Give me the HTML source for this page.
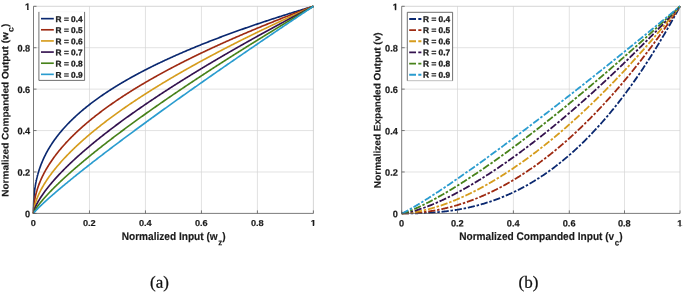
<!DOCTYPE html>
<html><head><meta charset="utf-8"><title>Figure</title>
<style>
html,body{margin:0;padding:0;background:#fff;}
svg{display:block;will-change:transform;}
text{font-family:"Liberation Sans", Arial, Helvetica, sans-serif;fill:#1a1a1a;text-rendering:geometricPrecision;}
.g{stroke:#d6d6d6;stroke-width:0.7;fill:none;}
.bx{stroke:#cccccc;stroke-width:0.8;fill:none;}
.ax{stroke:#5a5a5a;stroke-width:0.8;fill:none;}
.tk{stroke:#5a5a5a;stroke-width:0.8;}
.ca{fill:none;stroke-width:1.65;stroke-linejoin:round;}
.cb{fill:none;stroke-width:1.8;stroke-dasharray:7.2 1.8 2.5 1.8;}
.cl{fill:none;stroke-width:1.85;stroke-dasharray:6.8 2.3 3.1 20;}
.tl{font-size:9.2px;font-weight:bold;stroke:#1a1a1a;stroke-width:0.2;}
.al{font-weight:bold;stroke:#1a1a1a;stroke-width:0.15;}
.xl{font-size:10.12px;}
.yl{font-size:10.05px;}
.sub{font-size:7.9px;}
.lt{font-size:8.3px;font-weight:bold;stroke:#1a1a1a;stroke-width:0.3;}
.lgb{fill:none;stroke:#4c4c4c;stroke-width:0.8;}
.cap{font-family:"Liberation Serif", "Times New Roman", serif;font-size:17px;fill:#111;stroke:#111;stroke-width:0.25;}
</style></head><body>
<svg width="685" height="292" viewBox="0 0 685 292">
<defs><clipPath id="c1m"><rect x="-3.2" y="-9" width="6.4" height="7.9"/><rect x="-0.52" y="-1.3" width="1.46" height="2"/></clipPath><clipPath id="c1e"><rect x="-5.8" y="-9" width="6.4" height="7.9"/><rect x="-3.08" y="-1.3" width="1.46" height="2"/></clipPath></defs>
<rect width="685" height="292" fill="#fff"/>
<line x1="89.48" y1="6.3" x2="89.48" y2="213.4" class="g"/>
<line x1="33.5" y1="171.98" x2="313.4" y2="171.98" class="g"/>
<line x1="145.46" y1="6.3" x2="145.46" y2="213.4" class="g"/>
<line x1="33.5" y1="130.56" x2="313.4" y2="130.56" class="g"/>
<line x1="201.44" y1="6.3" x2="201.44" y2="213.4" class="g"/>
<line x1="33.5" y1="89.14" x2="313.4" y2="89.14" class="g"/>
<line x1="257.42" y1="6.3" x2="257.42" y2="213.4" class="g"/>
<line x1="33.5" y1="47.72" x2="313.4" y2="47.72" class="g"/>
<path d="M33.5 6.3H313.4V213.4" class="bx"/>
<path d="M33.50 213.40 L33.53 208.19 L33.56 206.52 L33.58 205.31 L33.61 204.32 L33.64 203.48 L33.67 202.73 L33.70 202.05 L33.73 201.42 L33.75 200.85 L33.78 200.31 L33.81 199.80 L33.84 199.32 L33.87 198.86 L33.89 198.42 L33.92 198.00 L33.95 197.60 L33.98 197.21 L34.01 196.84 L34.03 196.47 L34.06 196.12 L34.09 195.78 L34.12 195.45 L34.15 195.13 L34.18 194.82 L34.20 194.51 L34.23 194.21 L34.26 193.92 L34.29 193.63 L34.32 193.35 L34.34 193.08 L34.37 192.81 L34.40 192.55 L34.43 192.29 L34.46 192.04 L34.48 191.79 L34.51 191.54 L34.54 191.30 L34.57 191.07 L34.60 190.83 L34.63 190.60 L34.65 190.38 L34.68 190.15 L34.71 189.93 L34.74 189.72 L34.77 189.50 L34.79 189.29 L34.82 189.08 L34.85 188.88 L34.88 188.68 L34.91 188.47 L34.93 188.28 L34.96 188.08 L34.99 187.89 L35.02 187.70 L35.05 187.51 L35.08 187.32 L35.10 187.13 L35.13 186.95 L35.16 186.77 L35.19 186.59 L35.22 186.41 L35.24 186.24 L35.27 186.06 L35.30 185.89 L35.33 185.72 L35.36 185.55 L35.38 185.38 L35.41 185.21 L35.44 185.05 L35.47 184.88 L35.50 184.72 L35.53 184.56 L35.55 184.40 L35.58 184.24 L35.61 184.09 L35.64 183.93 L35.67 183.78 L35.69 183.62 L35.72 183.47 L35.75 183.32 L35.78 183.17 L35.81 183.02 L35.83 182.87 L35.86 182.73 L35.89 182.58 L35.92 182.44 L35.95 182.29 L35.98 182.15 L36.00 182.01 L36.03 181.87 L36.06 181.73 L36.09 181.59 L36.12 181.45 L36.14 181.32 L36.17 181.18 L36.20 181.04 L36.23 180.91 L36.26 180.78 L36.28 180.64 L36.31 180.51 L36.34 180.38 L36.37 180.25 L36.40 180.12 L36.43 179.99 L36.45 179.86 L36.48 179.74 L36.51 179.61 L36.54 179.48 L36.57 179.36 L36.59 179.23 L36.62 179.11 L36.65 178.99 L36.68 178.86 L36.71 178.74 L36.74 178.62 L36.76 178.50 L36.79 178.38 L36.82 178.26 L36.85 178.14 L36.88 178.02 L36.90 177.91 L36.93 177.79 L36.96 177.67 L36.99 177.56 L37.02 177.44 L37.04 177.33 L37.07 177.21 L37.10 177.10 L37.13 176.98 L37.16 176.87 L37.19 176.76 L37.21 176.65 L37.24 176.54 L37.27 176.43 L37.30 176.32 L37.33 176.21 L37.35 176.10 L37.38 175.99 L37.41 175.88 L37.44 175.77 L37.47 175.67 L37.49 175.56 L37.52 175.45 L37.55 175.35 L37.58 175.24 L37.61 175.14 L37.64 175.03 L37.66 174.93 L37.69 174.82 L37.72 174.72 L37.75 174.62 L37.78 174.51 L37.80 174.41 L37.83 174.31 L37.86 174.21 L37.89 174.11 L37.92 174.01 L37.94 173.91 L37.97 173.81 L38.00 173.71 L38.03 173.61 L38.06 173.51 L38.09 173.41 L38.11 173.31 L38.14 173.22 L38.17 173.12 L38.20 173.02 L38.23 172.93 L38.25 172.83 L38.28 172.73 L38.31 172.64 L38.34 172.54 L38.37 172.45 L38.39 172.35 L38.42 172.26 L38.45 172.17 L38.48 172.07 L38.51 171.98 L38.54 171.89 L38.56 171.79 L38.59 171.70 L38.62 171.61 L38.65 171.52 L38.68 171.43 L38.70 171.34 L38.73 171.24 L38.76 171.15 L38.79 171.06 L38.82 170.97 L38.84 170.88 L38.87 170.79 L38.90 170.71 L38.93 170.62 L38.96 170.53 L38.99 170.44 L39.01 170.35 L39.04 170.26 L39.07 170.18 L39.10 170.09 L39.79 168.04 L40.47 166.11 L41.16 164.30 L41.85 162.58 L42.54 160.95 L43.22 159.39 L43.91 157.89 L44.60 156.45 L45.29 155.07 L45.97 153.73 L46.66 152.43 L47.35 151.18 L48.04 149.96 L48.72 148.78 L49.41 147.63 L50.10 146.50 L50.79 145.41 L51.47 144.34 L52.16 143.30 L52.85 142.27 L53.53 141.27 L54.22 140.29 L54.91 139.33 L55.60 138.39 L56.28 137.47 L56.97 136.56 L57.66 135.67 L58.35 134.79 L59.03 133.92 L59.72 133.08 L60.41 132.24 L61.10 131.42 L61.78 130.61 L62.47 129.81 L63.16 129.02 L63.85 128.24 L64.53 127.48 L65.22 126.72 L65.91 125.97 L66.60 125.24 L67.28 124.51 L67.97 123.79 L68.66 123.08 L69.35 122.38 L70.03 121.68 L70.72 120.99 L71.41 120.32 L72.10 119.64 L72.78 118.98 L73.47 118.32 L74.16 117.67 L74.85 117.03 L75.53 116.39 L76.22 115.76 L76.91 115.13 L77.60 114.51 L78.28 113.90 L78.97 113.29 L79.66 112.69 L80.35 112.09 L81.03 111.50 L81.72 110.91 L82.41 110.33 L83.10 109.75 L83.78 109.18 L84.47 108.61 L85.16 108.05 L85.85 107.49 L86.53 106.94 L87.22 106.39 L87.91 105.84 L88.60 105.30 L89.28 104.76 L89.97 104.23 L90.66 103.70 L91.35 103.17 L92.03 102.65 L92.72 102.13 L93.41 101.62 L94.10 101.11 L94.78 100.60 L95.47 100.09 L96.16 99.59 L96.85 99.09 L97.53 98.60 L98.22 98.11 L98.91 97.62 L99.60 97.14 L100.28 96.65 L100.97 96.17 L101.66 95.70 L102.35 95.22 L103.03 94.75 L103.72 94.29 L104.41 93.82 L105.10 93.36 L105.78 92.90 L106.47 92.44 L107.16 91.99 L107.85 91.53 L108.53 91.09 L109.22 90.64 L109.91 90.19 L110.60 89.75 L111.28 89.31 L111.97 88.87 L112.66 88.44 L113.35 88.01 L114.03 87.57 L114.72 87.15 L115.41 86.72 L116.10 86.30 L116.78 85.87 L117.47 85.45 L118.16 85.04 L118.84 84.62 L119.53 84.21 L120.22 83.79 L120.91 83.38 L121.59 82.98 L122.28 82.57 L122.97 82.17 L123.66 81.76 L124.34 81.36 L125.03 80.96 L125.72 80.57 L126.41 80.17 L127.09 79.78 L127.78 79.39 L128.47 79.00 L129.16 78.61 L129.84 78.22 L130.53 77.84 L131.22 77.45 L131.91 77.07 L132.59 76.69 L133.28 76.31 L133.97 75.93 L134.66 75.56 L135.34 75.19 L136.03 74.81 L136.72 74.44 L137.41 74.07 L138.09 73.70 L138.78 73.34 L139.47 72.97 L140.16 72.61 L140.84 72.25 L141.53 71.89 L142.22 71.53 L142.91 71.17 L143.59 70.81 L144.28 70.46 L144.97 70.10 L145.66 69.75 L146.34 69.40 L147.03 69.05 L147.72 68.70 L148.41 68.35 L149.09 68.00 L149.78 67.66 L150.47 67.31 L151.16 66.97 L151.84 66.63 L152.53 66.29 L153.22 65.95 L153.91 65.61 L154.59 65.28 L155.28 64.94 L155.97 64.60 L156.66 64.27 L157.34 63.94 L158.03 63.61 L158.72 63.28 L159.41 62.95 L160.09 62.62 L160.78 62.29 L161.47 61.97 L162.16 61.64 L162.84 61.32 L163.53 61.00 L164.22 60.67 L164.91 60.35 L165.59 60.03 L166.28 59.71 L166.97 59.40 L167.66 59.08 L168.34 58.76 L169.03 58.45 L169.72 58.14 L170.41 57.82 L171.09 57.51 L171.78 57.20 L172.47 56.89 L173.16 56.58 L173.84 56.27 L174.53 55.96 L175.22 55.66 L175.91 55.35 L176.59 55.05 L177.28 54.74 L177.97 54.44 L178.66 54.14 L179.34 53.84 L180.03 53.54 L180.72 53.24 L181.41 52.94 L182.09 52.64 L182.78 52.34 L183.47 52.05 L184.15 51.75 L184.84 51.46 L185.53 51.16 L186.22 50.87 L186.90 50.58 L187.59 50.29 L188.28 50.00 L188.97 49.71 L189.65 49.42 L190.34 49.13 L191.03 48.84 L191.72 48.55 L192.40 48.27 L193.09 47.98 L193.78 47.70 L194.47 47.41 L195.15 47.13 L195.84 46.85 L196.53 46.57 L197.22 46.28 L197.90 46.00 L198.59 45.72 L199.28 45.45 L199.97 45.17 L200.65 44.89 L201.34 44.61 L202.03 44.34 L202.72 44.06 L203.40 43.79 L204.09 43.51 L204.78 43.24 L205.47 42.97 L206.15 42.69 L206.84 42.42 L207.53 42.15 L208.22 41.88 L208.90 41.61 L209.59 41.34 L210.28 41.07 L210.97 40.81 L211.65 40.54 L212.34 40.27 L213.03 40.01 L213.72 39.74 L214.40 39.48 L215.09 39.21 L215.78 38.95 L216.47 38.69 L217.15 38.42 L217.84 38.16 L218.53 37.90 L219.22 37.64 L219.90 37.38 L220.59 37.12 L221.28 36.86 L221.97 36.60 L222.65 36.35 L223.34 36.09 L224.03 35.83 L224.72 35.58 L225.40 35.32 L226.09 35.07 L226.78 34.81 L227.47 34.56 L228.15 34.30 L228.84 34.05 L229.53 33.80 L230.22 33.55 L230.90 33.30 L231.59 33.05 L232.28 32.80 L232.97 32.55 L233.65 32.30 L234.34 32.05 L235.03 31.80 L235.72 31.55 L236.40 31.31 L237.09 31.06 L237.78 30.81 L238.47 30.57 L239.15 30.32 L239.84 30.08 L240.53 29.83 L241.22 29.59 L241.90 29.35 L242.59 29.11 L243.28 28.86 L243.97 28.62 L244.65 28.38 L245.34 28.14 L246.03 27.90 L246.72 27.66 L247.40 27.42 L248.09 27.18 L248.78 26.94 L249.46 26.71 L250.15 26.47 L250.84 26.23 L251.53 25.99 L252.21 25.76 L252.90 25.52 L253.59 25.29 L254.28 25.05 L254.96 24.82 L255.65 24.58 L256.34 24.35 L257.03 24.12 L257.71 23.88 L258.40 23.65 L259.09 23.42 L259.78 23.19 L260.46 22.96 L261.15 22.73 L261.84 22.50 L262.53 22.27 L263.21 22.04 L263.90 21.81 L264.59 21.58 L265.28 21.35 L265.96 21.13 L266.65 20.90 L267.34 20.67 L268.03 20.45 L268.71 20.22 L269.40 19.99 L270.09 19.77 L270.78 19.54 L271.46 19.32 L272.15 19.09 L272.84 18.87 L273.53 18.65 L274.21 18.42 L274.90 18.20 L275.59 17.98 L276.28 17.76 L276.96 17.54 L277.65 17.32 L278.34 17.10 L279.03 16.87 L279.71 16.65 L280.40 16.44 L281.09 16.22 L281.78 16.00 L282.46 15.78 L283.15 15.56 L283.84 15.34 L284.53 15.13 L285.21 14.91 L285.90 14.69 L286.59 14.48 L287.28 14.26 L287.96 14.04 L288.65 13.83 L289.34 13.61 L290.03 13.40 L290.71 13.19 L291.40 12.97 L292.09 12.76 L292.78 12.54 L293.46 12.33 L294.15 12.12 L294.84 11.91 L295.53 11.70 L296.21 11.48 L296.90 11.27 L297.59 11.06 L298.28 10.85 L298.96 10.64 L299.65 10.43 L300.34 10.22 L301.03 10.01 L301.71 9.80 L302.40 9.59 L303.09 9.39 L303.78 9.18 L304.46 8.97 L305.15 8.76 L305.84 8.56 L306.53 8.35 L307.21 8.14 L307.90 7.94 L308.59 7.73 L309.28 7.53 L309.96 7.32 L310.65 7.12 L311.34 6.91 L312.03 6.71 L312.71 6.50 L313.40 6.30" stroke="#0a2870" class="ca"/>
<path d="M33.50 213.40 L33.53 211.32 L33.56 210.46 L33.58 209.80 L33.61 209.25 L33.64 208.76 L33.67 208.31 L33.70 207.91 L33.73 207.53 L33.75 207.17 L33.78 206.83 L33.81 206.51 L33.84 206.21 L33.87 205.91 L33.89 205.63 L33.92 205.36 L33.95 205.10 L33.98 204.84 L34.01 204.59 L34.03 204.35 L34.06 204.11 L34.09 203.89 L34.12 203.66 L34.15 203.44 L34.18 203.23 L34.20 203.02 L34.23 202.81 L34.26 202.61 L34.29 202.41 L34.32 202.22 L34.34 202.03 L34.37 201.84 L34.40 201.66 L34.43 201.47 L34.46 201.29 L34.48 201.12 L34.51 200.94 L34.54 200.77 L34.57 200.60 L34.60 200.43 L34.63 200.27 L34.65 200.11 L34.68 199.94 L34.71 199.79 L34.74 199.63 L34.77 199.47 L34.79 199.32 L34.82 199.17 L34.85 199.02 L34.88 198.87 L34.91 198.72 L34.93 198.57 L34.96 198.43 L34.99 198.29 L35.02 198.14 L35.05 198.00 L35.08 197.86 L35.10 197.73 L35.13 197.59 L35.16 197.45 L35.19 197.32 L35.22 197.18 L35.24 197.05 L35.27 196.92 L35.30 196.79 L35.33 196.66 L35.36 196.53 L35.38 196.41 L35.41 196.28 L35.44 196.15 L35.47 196.03 L35.50 195.91 L35.53 195.78 L35.55 195.66 L35.58 195.54 L35.61 195.42 L35.64 195.30 L35.67 195.18 L35.69 195.06 L35.72 194.95 L35.75 194.83 L35.78 194.71 L35.81 194.60 L35.83 194.48 L35.86 194.37 L35.89 194.26 L35.92 194.15 L35.95 194.03 L35.98 193.92 L36.00 193.81 L36.03 193.70 L36.06 193.59 L36.09 193.49 L36.12 193.38 L36.14 193.27 L36.17 193.16 L36.20 193.06 L36.23 192.95 L36.26 192.85 L36.28 192.74 L36.31 192.64 L36.34 192.53 L36.37 192.43 L36.40 192.33 L36.43 192.23 L36.45 192.13 L36.48 192.02 L36.51 191.92 L36.54 191.82 L36.57 191.72 L36.59 191.62 L36.62 191.53 L36.65 191.43 L36.68 191.33 L36.71 191.23 L36.74 191.14 L36.76 191.04 L36.79 190.94 L36.82 190.85 L36.85 190.75 L36.88 190.66 L36.90 190.56 L36.93 190.47 L36.96 190.37 L36.99 190.28 L37.02 190.19 L37.04 190.09 L37.07 190.00 L37.10 189.91 L37.13 189.82 L37.16 189.73 L37.19 189.64 L37.21 189.55 L37.24 189.46 L37.27 189.37 L37.30 189.28 L37.33 189.19 L37.35 189.10 L37.38 189.01 L37.41 188.92 L37.44 188.83 L37.47 188.75 L37.49 188.66 L37.52 188.57 L37.55 188.49 L37.58 188.40 L37.61 188.31 L37.64 188.23 L37.66 188.14 L37.69 188.06 L37.72 187.97 L37.75 187.89 L37.78 187.80 L37.80 187.72 L37.83 187.64 L37.86 187.55 L37.89 187.47 L37.92 187.39 L37.94 187.30 L37.97 187.22 L38.00 187.14 L38.03 187.06 L38.06 186.97 L38.09 186.89 L38.11 186.81 L38.14 186.73 L38.17 186.65 L38.20 186.57 L38.23 186.49 L38.25 186.41 L38.28 186.33 L38.31 186.25 L38.34 186.17 L38.37 186.09 L38.39 186.01 L38.42 185.93 L38.45 185.86 L38.48 185.78 L38.51 185.70 L38.54 185.62 L38.56 185.54 L38.59 185.47 L38.62 185.39 L38.65 185.31 L38.68 185.24 L38.70 185.16 L38.73 185.08 L38.76 185.01 L38.79 184.93 L38.82 184.86 L38.84 184.78 L38.87 184.71 L38.90 184.63 L38.93 184.56 L38.96 184.48 L38.99 184.41 L39.01 184.33 L39.04 184.26 L39.07 184.19 L39.10 184.11 L39.79 182.37 L40.47 180.71 L41.16 179.14 L41.85 177.63 L42.54 176.19 L43.22 174.80 L43.91 173.46 L44.60 172.16 L45.29 170.90 L45.97 169.68 L46.66 168.49 L47.35 167.34 L48.04 166.21 L48.72 165.10 L49.41 164.02 L50.10 162.97 L50.79 161.93 L51.47 160.92 L52.16 159.93 L52.85 158.95 L53.53 157.99 L54.22 157.05 L54.91 156.12 L55.60 155.21 L56.28 154.31 L56.97 153.43 L57.66 152.55 L58.35 151.70 L59.03 150.85 L59.72 150.01 L60.41 149.19 L61.10 148.37 L61.78 147.57 L62.47 146.77 L63.16 145.98 L63.85 145.21 L64.53 144.44 L65.22 143.68 L65.91 142.93 L66.60 142.18 L67.28 141.45 L67.97 140.72 L68.66 140.00 L69.35 139.29 L70.03 138.58 L70.72 137.88 L71.41 137.18 L72.10 136.50 L72.78 135.81 L73.47 135.14 L74.16 134.47 L74.85 133.80 L75.53 133.14 L76.22 132.49 L76.91 131.84 L77.60 131.20 L78.28 130.56 L78.97 129.93 L79.66 129.30 L80.35 128.67 L81.03 128.05 L81.72 127.44 L82.41 126.83 L83.10 126.22 L83.78 125.62 L84.47 125.02 L85.16 124.43 L85.85 123.84 L86.53 123.25 L87.22 122.67 L87.91 122.09 L88.60 121.52 L89.28 120.94 L89.97 120.38 L90.66 119.81 L91.35 119.25 L92.03 118.69 L92.72 118.14 L93.41 117.59 L94.10 117.04 L94.78 116.49 L95.47 115.95 L96.16 115.41 L96.85 114.88 L97.53 114.34 L98.22 113.81 L98.91 113.29 L99.60 112.76 L100.28 112.24 L100.97 111.72 L101.66 111.20 L102.35 110.69 L103.03 110.18 L103.72 109.67 L104.41 109.16 L105.10 108.66 L105.78 108.16 L106.47 107.66 L107.16 107.16 L107.85 106.67 L108.53 106.17 L109.22 105.68 L109.91 105.19 L110.60 104.71 L111.28 104.23 L111.97 103.74 L112.66 103.27 L113.35 102.79 L114.03 102.31 L114.72 101.84 L115.41 101.37 L116.10 100.90 L116.78 100.43 L117.47 99.97 L118.16 99.50 L118.84 99.04 L119.53 98.58 L120.22 98.12 L120.91 97.67 L121.59 97.21 L122.28 96.76 L122.97 96.31 L123.66 95.86 L124.34 95.41 L125.03 94.97 L125.72 94.53 L126.41 94.08 L127.09 93.64 L127.78 93.20 L128.47 92.77 L129.16 92.33 L129.84 91.90 L130.53 91.46 L131.22 91.03 L131.91 90.60 L132.59 90.17 L133.28 89.75 L133.97 89.32 L134.66 88.90 L135.34 88.48 L136.03 88.05 L136.72 87.64 L137.41 87.22 L138.09 86.80 L138.78 86.38 L139.47 85.97 L140.16 85.56 L140.84 85.15 L141.53 84.74 L142.22 84.33 L142.91 83.92 L143.59 83.51 L144.28 83.11 L144.97 82.71 L145.66 82.30 L146.34 81.90 L147.03 81.50 L147.72 81.10 L148.41 80.71 L149.09 80.31 L149.78 79.91 L150.47 79.52 L151.16 79.13 L151.84 78.74 L152.53 78.35 L153.22 77.96 L153.91 77.57 L154.59 77.18 L155.28 76.79 L155.97 76.41 L156.66 76.03 L157.34 75.64 L158.03 75.26 L158.72 74.88 L159.41 74.50 L160.09 74.12 L160.78 73.74 L161.47 73.37 L162.16 72.99 L162.84 72.62 L163.53 72.24 L164.22 71.87 L164.91 71.50 L165.59 71.13 L166.28 70.76 L166.97 70.39 L167.66 70.02 L168.34 69.65 L169.03 69.29 L169.72 68.92 L170.41 68.56 L171.09 68.20 L171.78 67.83 L172.47 67.47 L173.16 67.11 L173.84 66.75 L174.53 66.39 L175.22 66.04 L175.91 65.68 L176.59 65.32 L177.28 64.97 L177.97 64.61 L178.66 64.26 L179.34 63.91 L180.03 63.56 L180.72 63.20 L181.41 62.85 L182.09 62.50 L182.78 62.16 L183.47 61.81 L184.15 61.46 L184.84 61.11 L185.53 60.77 L186.22 60.42 L186.90 60.08 L187.59 59.74 L188.28 59.39 L188.97 59.05 L189.65 58.71 L190.34 58.37 L191.03 58.03 L191.72 57.69 L192.40 57.36 L193.09 57.02 L193.78 56.68 L194.47 56.35 L195.15 56.01 L195.84 55.68 L196.53 55.34 L197.22 55.01 L197.90 54.68 L198.59 54.35 L199.28 54.02 L199.97 53.69 L200.65 53.36 L201.34 53.03 L202.03 52.70 L202.72 52.37 L203.40 52.05 L204.09 51.72 L204.78 51.39 L205.47 51.07 L206.15 50.75 L206.84 50.42 L207.53 50.10 L208.22 49.78 L208.90 49.45 L209.59 49.13 L210.28 48.81 L210.97 48.49 L211.65 48.17 L212.34 47.86 L213.03 47.54 L213.72 47.22 L214.40 46.90 L215.09 46.59 L215.78 46.27 L216.47 45.96 L217.15 45.64 L217.84 45.33 L218.53 45.02 L219.22 44.70 L219.90 44.39 L220.59 44.08 L221.28 43.77 L221.97 43.46 L222.65 43.15 L223.34 42.84 L224.03 42.53 L224.72 42.22 L225.40 41.92 L226.09 41.61 L226.78 41.30 L227.47 41.00 L228.15 40.69 L228.84 40.39 L229.53 40.08 L230.22 39.78 L230.90 39.48 L231.59 39.17 L232.28 38.87 L232.97 38.57 L233.65 38.27 L234.34 37.97 L235.03 37.67 L235.72 37.37 L236.40 37.07 L237.09 36.77 L237.78 36.47 L238.47 36.18 L239.15 35.88 L239.84 35.58 L240.53 35.29 L241.22 34.99 L241.90 34.70 L242.59 34.40 L243.28 34.11 L243.97 33.82 L244.65 33.52 L245.34 33.23 L246.03 32.94 L246.72 32.65 L247.40 32.35 L248.09 32.06 L248.78 31.77 L249.46 31.48 L250.15 31.19 L250.84 30.91 L251.53 30.62 L252.21 30.33 L252.90 30.04 L253.59 29.76 L254.28 29.47 L254.96 29.18 L255.65 28.90 L256.34 28.61 L257.03 28.33 L257.71 28.04 L258.40 27.76 L259.09 27.47 L259.78 27.19 L260.46 26.91 L261.15 26.63 L261.84 26.35 L262.53 26.06 L263.21 25.78 L263.90 25.50 L264.59 25.22 L265.28 24.94 L265.96 24.66 L266.65 24.38 L267.34 24.11 L268.03 23.83 L268.71 23.55 L269.40 23.27 L270.09 23.00 L270.78 22.72 L271.46 22.44 L272.15 22.17 L272.84 21.89 L273.53 21.62 L274.21 21.34 L274.90 21.07 L275.59 20.80 L276.28 20.52 L276.96 20.25 L277.65 19.98 L278.34 19.70 L279.03 19.43 L279.71 19.16 L280.40 18.89 L281.09 18.62 L281.78 18.35 L282.46 18.08 L283.15 17.81 L283.84 17.54 L284.53 17.27 L285.21 17.00 L285.90 16.74 L286.59 16.47 L287.28 16.20 L287.96 15.93 L288.65 15.67 L289.34 15.40 L290.03 15.14 L290.71 14.87 L291.40 14.61 L292.09 14.34 L292.78 14.08 L293.46 13.81 L294.15 13.55 L294.84 13.28 L295.53 13.02 L296.21 12.76 L296.90 12.50 L297.59 12.23 L298.28 11.97 L298.96 11.71 L299.65 11.45 L300.34 11.19 L301.03 10.93 L301.71 10.67 L302.40 10.41 L303.09 10.15 L303.78 9.89 L304.46 9.63 L305.15 9.37 L305.84 9.12 L306.53 8.86 L307.21 8.60 L307.90 8.34 L308.59 8.09 L309.28 7.83 L309.96 7.58 L310.65 7.32 L311.34 7.06 L312.03 6.81 L312.71 6.55 L313.40 6.30" stroke="#9e2a12" class="ca"/>
<path d="M33.50 213.40 L33.53 212.57 L33.56 212.15 L33.58 211.80 L33.61 211.50 L33.64 211.23 L33.67 210.98 L33.70 210.74 L33.73 210.52 L33.75 210.31 L33.78 210.11 L33.81 209.91 L33.84 209.73 L33.87 209.55 L33.89 209.37 L33.92 209.20 L33.95 209.04 L33.98 208.87 L34.01 208.72 L34.03 208.56 L34.06 208.41 L34.09 208.26 L34.12 208.12 L34.15 207.97 L34.18 207.83 L34.20 207.70 L34.23 207.56 L34.26 207.43 L34.29 207.29 L34.32 207.16 L34.34 207.04 L34.37 206.91 L34.40 206.78 L34.43 206.66 L34.46 206.54 L34.48 206.42 L34.51 206.30 L34.54 206.18 L34.57 206.07 L34.60 205.95 L34.63 205.84 L34.65 205.72 L34.68 205.61 L34.71 205.50 L34.74 205.39 L34.77 205.28 L34.79 205.17 L34.82 205.07 L34.85 204.96 L34.88 204.86 L34.91 204.75 L34.93 204.65 L34.96 204.55 L34.99 204.45 L35.02 204.34 L35.05 204.24 L35.08 204.14 L35.10 204.05 L35.13 203.95 L35.16 203.85 L35.19 203.75 L35.22 203.66 L35.24 203.56 L35.27 203.47 L35.30 203.37 L35.33 203.28 L35.36 203.19 L35.38 203.09 L35.41 203.00 L35.44 202.91 L35.47 202.82 L35.50 202.73 L35.53 202.64 L35.55 202.55 L35.58 202.46 L35.61 202.37 L35.64 202.28 L35.67 202.20 L35.69 202.11 L35.72 202.02 L35.75 201.94 L35.78 201.85 L35.81 201.76 L35.83 201.68 L35.86 201.60 L35.89 201.51 L35.92 201.43 L35.95 201.34 L35.98 201.26 L36.00 201.18 L36.03 201.10 L36.06 201.01 L36.09 200.93 L36.12 200.85 L36.14 200.77 L36.17 200.69 L36.20 200.61 L36.23 200.53 L36.26 200.45 L36.28 200.37 L36.31 200.29 L36.34 200.22 L36.37 200.14 L36.40 200.06 L36.43 199.98 L36.45 199.90 L36.48 199.83 L36.51 199.75 L36.54 199.67 L36.57 199.60 L36.59 199.52 L36.62 199.45 L36.65 199.37 L36.68 199.30 L36.71 199.22 L36.74 199.15 L36.76 199.07 L36.79 199.00 L36.82 198.93 L36.85 198.85 L36.88 198.78 L36.90 198.71 L36.93 198.63 L36.96 198.56 L36.99 198.49 L37.02 198.42 L37.04 198.34 L37.07 198.27 L37.10 198.20 L37.13 198.13 L37.16 198.06 L37.19 197.99 L37.21 197.92 L37.24 197.85 L37.27 197.78 L37.30 197.71 L37.33 197.64 L37.35 197.57 L37.38 197.50 L37.41 197.43 L37.44 197.36 L37.47 197.29 L37.49 197.22 L37.52 197.16 L37.55 197.09 L37.58 197.02 L37.61 196.95 L37.64 196.89 L37.66 196.82 L37.69 196.75 L37.72 196.68 L37.75 196.62 L37.78 196.55 L37.80 196.48 L37.83 196.42 L37.86 196.35 L37.89 196.29 L37.92 196.22 L37.94 196.15 L37.97 196.09 L38.00 196.02 L38.03 195.96 L38.06 195.89 L38.09 195.83 L38.11 195.76 L38.14 195.70 L38.17 195.64 L38.20 195.57 L38.23 195.51 L38.25 195.44 L38.28 195.38 L38.31 195.32 L38.34 195.25 L38.37 195.19 L38.39 195.13 L38.42 195.06 L38.45 195.00 L38.48 194.94 L38.51 194.88 L38.54 194.81 L38.56 194.75 L38.59 194.69 L38.62 194.63 L38.65 194.57 L38.68 194.50 L38.70 194.44 L38.73 194.38 L38.76 194.32 L38.79 194.26 L38.82 194.20 L38.84 194.14 L38.87 194.08 L38.90 194.01 L38.93 193.95 L38.96 193.89 L38.99 193.83 L39.01 193.77 L39.04 193.71 L39.07 193.65 L39.10 193.59 L39.79 192.17 L40.47 190.80 L41.16 189.49 L41.85 188.23 L42.54 187.00 L43.22 185.82 L43.91 184.66 L44.60 183.54 L45.29 182.44 L45.97 181.37 L46.66 180.32 L47.35 179.30 L48.04 178.29 L48.72 177.30 L49.41 176.33 L50.10 175.38 L50.79 174.44 L51.47 173.52 L52.16 172.61 L52.85 171.72 L53.53 170.84 L54.22 169.96 L54.91 169.11 L55.60 168.26 L56.28 167.42 L56.97 166.59 L57.66 165.78 L58.35 164.97 L59.03 164.17 L59.72 163.38 L60.41 162.59 L61.10 161.82 L61.78 161.05 L62.47 160.29 L63.16 159.54 L63.85 158.79 L64.53 158.05 L65.22 157.32 L65.91 156.60 L66.60 155.88 L67.28 155.16 L67.97 154.45 L68.66 153.75 L69.35 153.05 L70.03 152.36 L70.72 151.68 L71.41 150.99 L72.10 150.32 L72.78 149.65 L73.47 148.98 L74.16 148.32 L74.85 147.66 L75.53 147.00 L76.22 146.35 L76.91 145.71 L77.60 145.07 L78.28 144.43 L78.97 143.80 L79.66 143.17 L80.35 142.54 L81.03 141.92 L81.72 141.30 L82.41 140.69 L83.10 140.08 L83.78 139.47 L84.47 138.86 L85.16 138.26 L85.85 137.66 L86.53 137.07 L87.22 136.48 L87.91 135.89 L88.60 135.30 L89.28 134.72 L89.97 134.14 L90.66 133.56 L91.35 132.98 L92.03 132.41 L92.72 131.84 L93.41 131.28 L94.10 130.71 L94.78 130.15 L95.47 129.59 L96.16 129.03 L96.85 128.48 L97.53 127.93 L98.22 127.38 L98.91 126.83 L99.60 126.29 L100.28 125.74 L100.97 125.20 L101.66 124.67 L102.35 124.13 L103.03 123.60 L103.72 123.06 L104.41 122.54 L105.10 122.01 L105.78 121.48 L106.47 120.96 L107.16 120.44 L107.85 119.92 L108.53 119.40 L109.22 118.88 L109.91 118.37 L110.60 117.86 L111.28 117.35 L111.97 116.84 L112.66 116.33 L113.35 115.83 L114.03 115.32 L114.72 114.82 L115.41 114.32 L116.10 113.82 L116.78 113.33 L117.47 112.83 L118.16 112.34 L118.84 111.85 L119.53 111.36 L120.22 110.87 L120.91 110.38 L121.59 109.90 L122.28 109.41 L122.97 108.93 L123.66 108.45 L124.34 107.97 L125.03 107.49 L125.72 107.02 L126.41 106.54 L127.09 106.07 L127.78 105.60 L128.47 105.12 L129.16 104.66 L129.84 104.19 L130.53 103.72 L131.22 103.25 L131.91 102.79 L132.59 102.33 L133.28 101.87 L133.97 101.41 L134.66 100.95 L135.34 100.49 L136.03 100.03 L136.72 99.58 L137.41 99.12 L138.09 98.67 L138.78 98.22 L139.47 97.77 L140.16 97.32 L140.84 96.87 L141.53 96.42 L142.22 95.97 L142.91 95.53 L143.59 95.09 L144.28 94.64 L144.97 94.20 L145.66 93.76 L146.34 93.32 L147.03 92.88 L147.72 92.45 L148.41 92.01 L149.09 91.57 L149.78 91.14 L150.47 90.71 L151.16 90.27 L151.84 89.84 L152.53 89.41 L153.22 88.98 L153.91 88.56 L154.59 88.13 L155.28 87.70 L155.97 87.28 L156.66 86.85 L157.34 86.43 L158.03 86.01 L158.72 85.59 L159.41 85.17 L160.09 84.75 L160.78 84.33 L161.47 83.91 L162.16 83.49 L162.84 83.08 L163.53 82.66 L164.22 82.25 L164.91 81.83 L165.59 81.42 L166.28 81.01 L166.97 80.60 L167.66 80.19 L168.34 79.78 L169.03 79.37 L169.72 78.96 L170.41 78.56 L171.09 78.15 L171.78 77.75 L172.47 77.34 L173.16 76.94 L173.84 76.53 L174.53 76.13 L175.22 75.73 L175.91 75.33 L176.59 74.93 L177.28 74.53 L177.97 74.14 L178.66 73.74 L179.34 73.34 L180.03 72.95 L180.72 72.55 L181.41 72.16 L182.09 71.76 L182.78 71.37 L183.47 70.98 L184.15 70.59 L184.84 70.20 L185.53 69.81 L186.22 69.42 L186.90 69.03 L187.59 68.64 L188.28 68.25 L188.97 67.87 L189.65 67.48 L190.34 67.10 L191.03 66.71 L191.72 66.33 L192.40 65.94 L193.09 65.56 L193.78 65.18 L194.47 64.80 L195.15 64.42 L195.84 64.04 L196.53 63.66 L197.22 63.28 L197.90 62.90 L198.59 62.53 L199.28 62.15 L199.97 61.77 L200.65 61.40 L201.34 61.02 L202.03 60.65 L202.72 60.28 L203.40 59.90 L204.09 59.53 L204.78 59.16 L205.47 58.79 L206.15 58.42 L206.84 58.05 L207.53 57.68 L208.22 57.31 L208.90 56.94 L209.59 56.57 L210.28 56.21 L210.97 55.84 L211.65 55.47 L212.34 55.11 L213.03 54.74 L213.72 54.38 L214.40 54.02 L215.09 53.65 L215.78 53.29 L216.47 52.93 L217.15 52.57 L217.84 52.20 L218.53 51.84 L219.22 51.48 L219.90 51.13 L220.59 50.77 L221.28 50.41 L221.97 50.05 L222.65 49.69 L223.34 49.34 L224.03 48.98 L224.72 48.62 L225.40 48.27 L226.09 47.91 L226.78 47.56 L227.47 47.21 L228.15 46.85 L228.84 46.50 L229.53 46.15 L230.22 45.80 L230.90 45.45 L231.59 45.10 L232.28 44.74 L232.97 44.40 L233.65 44.05 L234.34 43.70 L235.03 43.35 L235.72 43.00 L236.40 42.65 L237.09 42.31 L237.78 41.96 L238.47 41.61 L239.15 41.27 L239.84 40.92 L240.53 40.58 L241.22 40.24 L241.90 39.89 L242.59 39.55 L243.28 39.21 L243.97 38.86 L244.65 38.52 L245.34 38.18 L246.03 37.84 L246.72 37.50 L247.40 37.16 L248.09 36.82 L248.78 36.48 L249.46 36.14 L250.15 35.80 L250.84 35.46 L251.53 35.13 L252.21 34.79 L252.90 34.45 L253.59 34.12 L254.28 33.78 L254.96 33.45 L255.65 33.11 L256.34 32.78 L257.03 32.44 L257.71 32.11 L258.40 31.78 L259.09 31.44 L259.78 31.11 L260.46 30.78 L261.15 30.45 L261.84 30.11 L262.53 29.78 L263.21 29.45 L263.90 29.12 L264.59 28.79 L265.28 28.46 L265.96 28.14 L266.65 27.81 L267.34 27.48 L268.03 27.15 L268.71 26.82 L269.40 26.50 L270.09 26.17 L270.78 25.84 L271.46 25.52 L272.15 25.19 L272.84 24.87 L273.53 24.54 L274.21 24.22 L274.90 23.89 L275.59 23.57 L276.28 23.25 L276.96 22.92 L277.65 22.60 L278.34 22.28 L279.03 21.96 L279.71 21.64 L280.40 21.32 L281.09 20.99 L281.78 20.67 L282.46 20.35 L283.15 20.03 L283.84 19.72 L284.53 19.40 L285.21 19.08 L285.90 18.76 L286.59 18.44 L287.28 18.12 L287.96 17.81 L288.65 17.49 L289.34 17.17 L290.03 16.86 L290.71 16.54 L291.40 16.23 L292.09 15.91 L292.78 15.60 L293.46 15.28 L294.15 14.97 L294.84 14.65 L295.53 14.34 L296.21 14.03 L296.90 13.71 L297.59 13.40 L298.28 13.09 L298.96 12.78 L299.65 12.47 L300.34 12.15 L301.03 11.84 L301.71 11.53 L302.40 11.22 L303.09 10.91 L303.78 10.60 L304.46 10.29 L305.15 9.98 L305.84 9.68 L306.53 9.37 L307.21 9.06 L307.90 8.75 L308.59 8.44 L309.28 8.14 L309.96 7.83 L310.65 7.52 L311.34 7.22 L312.03 6.91 L312.71 6.61 L313.40 6.30" stroke="#d69c1c" class="ca"/>
<path d="M33.50 213.40 L33.53 213.07 L33.56 212.86 L33.58 212.69 L33.61 212.53 L33.64 212.38 L33.67 212.25 L33.70 212.11 L33.73 211.99 L33.75 211.87 L33.78 211.75 L33.81 211.64 L33.84 211.52 L33.87 211.42 L33.89 211.31 L33.92 211.21 L33.95 211.11 L33.98 211.01 L34.01 210.91 L34.03 210.81 L34.06 210.72 L34.09 210.63 L34.12 210.53 L34.15 210.44 L34.18 210.35 L34.20 210.26 L34.23 210.18 L34.26 210.09 L34.29 210.01 L34.32 209.92 L34.34 209.84 L34.37 209.76 L34.40 209.67 L34.43 209.59 L34.46 209.51 L34.48 209.43 L34.51 209.35 L34.54 209.27 L34.57 209.20 L34.60 209.12 L34.63 209.04 L34.65 208.97 L34.68 208.89 L34.71 208.82 L34.74 208.74 L34.77 208.67 L34.79 208.60 L34.82 208.52 L34.85 208.45 L34.88 208.38 L34.91 208.31 L34.93 208.24 L34.96 208.17 L34.99 208.09 L35.02 208.02 L35.05 207.96 L35.08 207.89 L35.10 207.82 L35.13 207.75 L35.16 207.68 L35.19 207.61 L35.22 207.55 L35.24 207.48 L35.27 207.41 L35.30 207.35 L35.33 207.28 L35.36 207.21 L35.38 207.15 L35.41 207.08 L35.44 207.02 L35.47 206.95 L35.50 206.89 L35.53 206.83 L35.55 206.76 L35.58 206.70 L35.61 206.64 L35.64 206.57 L35.67 206.51 L35.69 206.45 L35.72 206.38 L35.75 206.32 L35.78 206.26 L35.81 206.20 L35.83 206.14 L35.86 206.08 L35.89 206.02 L35.92 205.96 L35.95 205.89 L35.98 205.83 L36.00 205.77 L36.03 205.71 L36.06 205.65 L36.09 205.60 L36.12 205.54 L36.14 205.48 L36.17 205.42 L36.20 205.36 L36.23 205.30 L36.26 205.24 L36.28 205.18 L36.31 205.13 L36.34 205.07 L36.37 205.01 L36.40 204.95 L36.43 204.90 L36.45 204.84 L36.48 204.78 L36.51 204.72 L36.54 204.67 L36.57 204.61 L36.59 204.56 L36.62 204.50 L36.65 204.44 L36.68 204.39 L36.71 204.33 L36.74 204.28 L36.76 204.22 L36.79 204.17 L36.82 204.11 L36.85 204.05 L36.88 204.00 L36.90 203.95 L36.93 203.89 L36.96 203.84 L36.99 203.78 L37.02 203.73 L37.04 203.67 L37.07 203.62 L37.10 203.57 L37.13 203.51 L37.16 203.46 L37.19 203.40 L37.21 203.35 L37.24 203.30 L37.27 203.25 L37.30 203.19 L37.33 203.14 L37.35 203.09 L37.38 203.03 L37.41 202.98 L37.44 202.93 L37.47 202.88 L37.49 202.82 L37.52 202.77 L37.55 202.72 L37.58 202.67 L37.61 202.62 L37.64 202.57 L37.66 202.51 L37.69 202.46 L37.72 202.41 L37.75 202.36 L37.78 202.31 L37.80 202.26 L37.83 202.21 L37.86 202.16 L37.89 202.10 L37.92 202.05 L37.94 202.00 L37.97 201.95 L38.00 201.90 L38.03 201.85 L38.06 201.80 L38.09 201.75 L38.11 201.70 L38.14 201.65 L38.17 201.60 L38.20 201.55 L38.23 201.50 L38.25 201.45 L38.28 201.40 L38.31 201.36 L38.34 201.31 L38.37 201.26 L38.39 201.21 L38.42 201.16 L38.45 201.11 L38.48 201.06 L38.51 201.01 L38.54 200.96 L38.56 200.91 L38.59 200.87 L38.62 200.82 L38.65 200.77 L38.68 200.72 L38.70 200.67 L38.73 200.62 L38.76 200.58 L38.79 200.53 L38.82 200.48 L38.84 200.43 L38.87 200.39 L38.90 200.34 L38.93 200.29 L38.96 200.24 L38.99 200.20 L39.01 200.15 L39.04 200.10 L39.07 200.05 L39.10 200.01 L39.79 198.88 L40.47 197.78 L41.16 196.72 L41.85 195.68 L42.54 194.67 L43.22 193.69 L43.91 192.72 L44.60 191.78 L45.29 190.85 L45.97 189.93 L46.66 189.04 L47.35 188.15 L48.04 187.28 L48.72 186.42 L49.41 185.57 L50.10 184.74 L50.79 183.91 L51.47 183.10 L52.16 182.29 L52.85 181.49 L53.53 180.70 L54.22 179.92 L54.91 179.15 L55.60 178.38 L56.28 177.62 L56.97 176.87 L57.66 176.12 L58.35 175.38 L59.03 174.65 L59.72 173.92 L60.41 173.20 L61.10 172.48 L61.78 171.77 L62.47 171.07 L63.16 170.37 L63.85 169.67 L64.53 168.98 L65.22 168.29 L65.91 167.61 L66.60 166.93 L67.28 166.26 L67.97 165.59 L68.66 164.93 L69.35 164.26 L70.03 163.61 L70.72 162.95 L71.41 162.30 L72.10 161.66 L72.78 161.01 L73.47 160.37 L74.16 159.74 L74.85 159.10 L75.53 158.47 L76.22 157.84 L76.91 157.22 L77.60 156.60 L78.28 155.98 L78.97 155.36 L79.66 154.75 L80.35 154.14 L81.03 153.53 L81.72 152.93 L82.41 152.33 L83.10 151.73 L83.78 151.13 L84.47 150.54 L85.16 149.94 L85.85 149.35 L86.53 148.77 L87.22 148.18 L87.91 147.60 L88.60 147.02 L89.28 146.44 L89.97 145.86 L90.66 145.29 L91.35 144.71 L92.03 144.14 L92.72 143.58 L93.41 143.01 L94.10 142.44 L94.78 141.88 L95.47 141.32 L96.16 140.76 L96.85 140.21 L97.53 139.65 L98.22 139.10 L98.91 138.55 L99.60 138.00 L100.28 137.45 L100.97 136.90 L101.66 136.36 L102.35 135.81 L103.03 135.27 L103.72 134.73 L104.41 134.19 L105.10 133.66 L105.78 133.12 L106.47 132.59 L107.16 132.05 L107.85 131.52 L108.53 130.99 L109.22 130.47 L109.91 129.94 L110.60 129.42 L111.28 128.89 L111.97 128.37 L112.66 127.85 L113.35 127.33 L114.03 126.81 L114.72 126.30 L115.41 125.78 L116.10 125.27 L116.78 124.75 L117.47 124.24 L118.16 123.73 L118.84 123.22 L119.53 122.71 L120.22 122.21 L120.91 121.70 L121.59 121.20 L122.28 120.69 L122.97 120.19 L123.66 119.69 L124.34 119.19 L125.03 118.69 L125.72 118.20 L126.41 117.70 L127.09 117.20 L127.78 116.71 L128.47 116.22 L129.16 115.73 L129.84 115.23 L130.53 114.75 L131.22 114.26 L131.91 113.77 L132.59 113.28 L133.28 112.80 L133.97 112.31 L134.66 111.83 L135.34 111.35 L136.03 110.86 L136.72 110.38 L137.41 109.90 L138.09 109.42 L138.78 108.95 L139.47 108.47 L140.16 107.99 L140.84 107.52 L141.53 107.04 L142.22 106.57 L142.91 106.10 L143.59 105.63 L144.28 105.16 L144.97 104.69 L145.66 104.22 L146.34 103.75 L147.03 103.28 L147.72 102.82 L148.41 102.35 L149.09 101.89 L149.78 101.42 L150.47 100.96 L151.16 100.50 L151.84 100.03 L152.53 99.57 L153.22 99.11 L153.91 98.66 L154.59 98.20 L155.28 97.74 L155.97 97.28 L156.66 96.83 L157.34 96.37 L158.03 95.92 L158.72 95.46 L159.41 95.01 L160.09 94.56 L160.78 94.11 L161.47 93.66 L162.16 93.21 L162.84 92.76 L163.53 92.31 L164.22 91.86 L164.91 91.41 L165.59 90.97 L166.28 90.52 L166.97 90.08 L167.66 89.63 L168.34 89.19 L169.03 88.75 L169.72 88.30 L170.41 87.86 L171.09 87.42 L171.78 86.98 L172.47 86.54 L173.16 86.10 L173.84 85.66 L174.53 85.23 L175.22 84.79 L175.91 84.35 L176.59 83.92 L177.28 83.48 L177.97 83.05 L178.66 82.61 L179.34 82.18 L180.03 81.75 L180.72 81.32 L181.41 80.88 L182.09 80.45 L182.78 80.02 L183.47 79.59 L184.15 79.16 L184.84 78.74 L185.53 78.31 L186.22 77.88 L186.90 77.45 L187.59 77.03 L188.28 76.60 L188.97 76.18 L189.65 75.75 L190.34 75.33 L191.03 74.91 L191.72 74.48 L192.40 74.06 L193.09 73.64 L193.78 73.22 L194.47 72.80 L195.15 72.38 L195.84 71.96 L196.53 71.54 L197.22 71.12 L197.90 70.70 L198.59 70.28 L199.28 69.87 L199.97 69.45 L200.65 69.04 L201.34 68.62 L202.03 68.21 L202.72 67.79 L203.40 67.38 L204.09 66.96 L204.78 66.55 L205.47 66.14 L206.15 65.73 L206.84 65.32 L207.53 64.90 L208.22 64.49 L208.90 64.08 L209.59 63.67 L210.28 63.27 L210.97 62.86 L211.65 62.45 L212.34 62.04 L213.03 61.63 L213.72 61.23 L214.40 60.82 L215.09 60.42 L215.78 60.01 L216.47 59.61 L217.15 59.20 L217.84 58.80 L218.53 58.40 L219.22 57.99 L219.90 57.59 L220.59 57.19 L221.28 56.79 L221.97 56.38 L222.65 55.98 L223.34 55.58 L224.03 55.18 L224.72 54.78 L225.40 54.39 L226.09 53.99 L226.78 53.59 L227.47 53.19 L228.15 52.79 L228.84 52.40 L229.53 52.00 L230.22 51.60 L230.90 51.21 L231.59 50.81 L232.28 50.42 L232.97 50.02 L233.65 49.63 L234.34 49.24 L235.03 48.84 L235.72 48.45 L236.40 48.06 L237.09 47.67 L237.78 47.28 L238.47 46.88 L239.15 46.49 L239.84 46.10 L240.53 45.71 L241.22 45.32 L241.90 44.93 L242.59 44.55 L243.28 44.16 L243.97 43.77 L244.65 43.38 L245.34 42.99 L246.03 42.61 L246.72 42.22 L247.40 41.83 L248.09 41.45 L248.78 41.06 L249.46 40.68 L250.15 40.29 L250.84 39.91 L251.53 39.53 L252.21 39.14 L252.90 38.76 L253.59 38.38 L254.28 37.99 L254.96 37.61 L255.65 37.23 L256.34 36.85 L257.03 36.47 L257.71 36.09 L258.40 35.71 L259.09 35.33 L259.78 34.95 L260.46 34.57 L261.15 34.19 L261.84 33.81 L262.53 33.43 L263.21 33.05 L263.90 32.67 L264.59 32.30 L265.28 31.92 L265.96 31.54 L266.65 31.17 L267.34 30.79 L268.03 30.42 L268.71 30.04 L269.40 29.67 L270.09 29.29 L270.78 28.92 L271.46 28.54 L272.15 28.17 L272.84 27.80 L273.53 27.42 L274.21 27.05 L274.90 26.68 L275.59 26.31 L276.28 25.93 L276.96 25.56 L277.65 25.19 L278.34 24.82 L279.03 24.45 L279.71 24.08 L280.40 23.71 L281.09 23.34 L281.78 22.97 L282.46 22.60 L283.15 22.23 L283.84 21.87 L284.53 21.50 L285.21 21.13 L285.90 20.76 L286.59 20.39 L287.28 20.03 L287.96 19.66 L288.65 19.30 L289.34 18.93 L290.03 18.56 L290.71 18.20 L291.40 17.83 L292.09 17.47 L292.78 17.10 L293.46 16.74 L294.15 16.38 L294.84 16.01 L295.53 15.65 L296.21 15.29 L296.90 14.92 L297.59 14.56 L298.28 14.20 L298.96 13.84 L299.65 13.47 L300.34 13.11 L301.03 12.75 L301.71 12.39 L302.40 12.03 L303.09 11.67 L303.78 11.31 L304.46 10.95 L305.15 10.59 L305.84 10.23 L306.53 9.87 L307.21 9.52 L307.90 9.16 L308.59 8.80 L309.28 8.44 L309.96 8.08 L310.65 7.73 L311.34 7.37 L312.03 7.01 L312.71 6.66 L313.40 6.30" stroke="#34124f" class="ca"/>
<path d="M33.50 213.40 L33.53 213.27 L33.56 213.17 L33.58 213.08 L33.61 213.00 L33.64 212.92 L33.67 212.85 L33.70 212.78 L33.73 212.71 L33.75 212.64 L33.78 212.57 L33.81 212.51 L33.84 212.44 L33.87 212.38 L33.89 212.32 L33.92 212.26 L33.95 212.19 L33.98 212.13 L34.01 212.08 L34.03 212.02 L34.06 211.96 L34.09 211.90 L34.12 211.84 L34.15 211.79 L34.18 211.73 L34.20 211.68 L34.23 211.62 L34.26 211.57 L34.29 211.51 L34.32 211.46 L34.34 211.41 L34.37 211.35 L34.40 211.30 L34.43 211.25 L34.46 211.20 L34.48 211.14 L34.51 211.09 L34.54 211.04 L34.57 210.99 L34.60 210.94 L34.63 210.89 L34.65 210.84 L34.68 210.79 L34.71 210.74 L34.74 210.69 L34.77 210.64 L34.79 210.59 L34.82 210.55 L34.85 210.50 L34.88 210.45 L34.91 210.40 L34.93 210.35 L34.96 210.30 L34.99 210.26 L35.02 210.21 L35.05 210.16 L35.08 210.12 L35.10 210.07 L35.13 210.02 L35.16 209.98 L35.19 209.93 L35.22 209.88 L35.24 209.84 L35.27 209.79 L35.30 209.75 L35.33 209.70 L35.36 209.65 L35.38 209.61 L35.41 209.56 L35.44 209.52 L35.47 209.47 L35.50 209.43 L35.53 209.38 L35.55 209.34 L35.58 209.30 L35.61 209.25 L35.64 209.21 L35.67 209.16 L35.69 209.12 L35.72 209.07 L35.75 209.03 L35.78 208.99 L35.81 208.94 L35.83 208.90 L35.86 208.86 L35.89 208.81 L35.92 208.77 L35.95 208.73 L35.98 208.68 L36.00 208.64 L36.03 208.60 L36.06 208.56 L36.09 208.51 L36.12 208.47 L36.14 208.43 L36.17 208.39 L36.20 208.34 L36.23 208.30 L36.26 208.26 L36.28 208.22 L36.31 208.18 L36.34 208.14 L36.37 208.09 L36.40 208.05 L36.43 208.01 L36.45 207.97 L36.48 207.93 L36.51 207.89 L36.54 207.85 L36.57 207.80 L36.59 207.76 L36.62 207.72 L36.65 207.68 L36.68 207.64 L36.71 207.60 L36.74 207.56 L36.76 207.52 L36.79 207.48 L36.82 207.44 L36.85 207.40 L36.88 207.36 L36.90 207.32 L36.93 207.28 L36.96 207.24 L36.99 207.20 L37.02 207.16 L37.04 207.12 L37.07 207.08 L37.10 207.04 L37.13 207.00 L37.16 206.96 L37.19 206.92 L37.21 206.88 L37.24 206.84 L37.27 206.80 L37.30 206.76 L37.33 206.72 L37.35 206.68 L37.38 206.64 L37.41 206.60 L37.44 206.56 L37.47 206.52 L37.49 206.49 L37.52 206.45 L37.55 206.41 L37.58 206.37 L37.61 206.33 L37.64 206.29 L37.66 206.25 L37.69 206.21 L37.72 206.18 L37.75 206.14 L37.78 206.10 L37.80 206.06 L37.83 206.02 L37.86 205.98 L37.89 205.95 L37.92 205.91 L37.94 205.87 L37.97 205.83 L38.00 205.79 L38.03 205.75 L38.06 205.72 L38.09 205.68 L38.11 205.64 L38.14 205.60 L38.17 205.57 L38.20 205.53 L38.23 205.49 L38.25 205.45 L38.28 205.41 L38.31 205.38 L38.34 205.34 L38.37 205.30 L38.39 205.26 L38.42 205.23 L38.45 205.19 L38.48 205.15 L38.51 205.12 L38.54 205.08 L38.56 205.04 L38.59 205.00 L38.62 204.97 L38.65 204.93 L38.68 204.89 L38.70 204.86 L38.73 204.82 L38.76 204.78 L38.79 204.75 L38.82 204.71 L38.84 204.67 L38.87 204.64 L38.90 204.60 L38.93 204.56 L38.96 204.53 L38.99 204.49 L39.01 204.45 L39.04 204.42 L39.07 204.38 L39.10 204.34 L39.79 203.46 L40.47 202.60 L41.16 201.76 L41.85 200.93 L42.54 200.12 L43.22 199.31 L43.91 198.52 L44.60 197.74 L45.29 196.97 L45.97 196.21 L46.66 195.45 L47.35 194.71 L48.04 193.97 L48.72 193.24 L49.41 192.51 L50.10 191.79 L50.79 191.08 L51.47 190.37 L52.16 189.67 L52.85 188.97 L53.53 188.28 L54.22 187.59 L54.91 186.91 L55.60 186.23 L56.28 185.56 L56.97 184.89 L57.66 184.22 L58.35 183.56 L59.03 182.90 L59.72 182.25 L60.41 181.59 L61.10 180.95 L61.78 180.30 L62.47 179.66 L63.16 179.02 L63.85 178.38 L64.53 177.75 L65.22 177.12 L65.91 176.49 L66.60 175.87 L67.28 175.25 L67.97 174.63 L68.66 174.01 L69.35 173.39 L70.03 172.78 L70.72 172.17 L71.41 171.56 L72.10 170.96 L72.78 170.35 L73.47 169.75 L74.16 169.15 L74.85 168.55 L75.53 167.96 L76.22 167.36 L76.91 166.77 L77.60 166.18 L78.28 165.59 L78.97 165.01 L79.66 164.42 L80.35 163.84 L81.03 163.26 L81.72 162.68 L82.41 162.10 L83.10 161.53 L83.78 160.95 L84.47 160.38 L85.16 159.81 L85.85 159.24 L86.53 158.67 L87.22 158.10 L87.91 157.54 L88.60 156.97 L89.28 156.41 L89.97 155.85 L90.66 155.29 L91.35 154.73 L92.03 154.18 L92.72 153.62 L93.41 153.07 L94.10 152.51 L94.78 151.96 L95.47 151.41 L96.16 150.86 L96.85 150.31 L97.53 149.76 L98.22 149.22 L98.91 148.67 L99.60 148.13 L100.28 147.59 L100.97 147.05 L101.66 146.51 L102.35 145.97 L103.03 145.43 L103.72 144.89 L104.41 144.35 L105.10 143.82 L105.78 143.29 L106.47 142.75 L107.16 142.22 L107.85 141.69 L108.53 141.16 L109.22 140.63 L109.91 140.10 L110.60 139.58 L111.28 139.05 L111.97 138.52 L112.66 138.00 L113.35 137.48 L114.03 136.95 L114.72 136.43 L115.41 135.91 L116.10 135.39 L116.78 134.87 L117.47 134.35 L118.16 133.84 L118.84 133.32 L119.53 132.81 L120.22 132.29 L120.91 131.78 L121.59 131.26 L122.28 130.75 L122.97 130.24 L123.66 129.73 L124.34 129.22 L125.03 128.71 L125.72 128.20 L126.41 127.69 L127.09 127.19 L127.78 126.68 L128.47 126.17 L129.16 125.67 L129.84 125.17 L130.53 124.66 L131.22 124.16 L131.91 123.66 L132.59 123.16 L133.28 122.66 L133.97 122.16 L134.66 121.66 L135.34 121.16 L136.03 120.66 L136.72 120.16 L137.41 119.67 L138.09 119.17 L138.78 118.68 L139.47 118.18 L140.16 117.69 L140.84 117.19 L141.53 116.70 L142.22 116.21 L142.91 115.72 L143.59 115.23 L144.28 114.74 L144.97 114.25 L145.66 113.76 L146.34 113.27 L147.03 112.78 L147.72 112.30 L148.41 111.81 L149.09 111.32 L149.78 110.84 L150.47 110.35 L151.16 109.87 L151.84 109.39 L152.53 108.90 L153.22 108.42 L153.91 107.94 L154.59 107.46 L155.28 106.98 L155.97 106.50 L156.66 106.02 L157.34 105.54 L158.03 105.06 L158.72 104.58 L159.41 104.10 L160.09 103.62 L160.78 103.15 L161.47 102.67 L162.16 102.20 L162.84 101.72 L163.53 101.25 L164.22 100.77 L164.91 100.30 L165.59 99.83 L166.28 99.35 L166.97 98.88 L167.66 98.41 L168.34 97.94 L169.03 97.47 L169.72 97.00 L170.41 96.53 L171.09 96.06 L171.78 95.59 L172.47 95.12 L173.16 94.65 L173.84 94.19 L174.53 93.72 L175.22 93.25 L175.91 92.79 L176.59 92.32 L177.28 91.86 L177.97 91.39 L178.66 90.93 L179.34 90.46 L180.03 90.00 L180.72 89.54 L181.41 89.07 L182.09 88.61 L182.78 88.15 L183.47 87.69 L184.15 87.23 L184.84 86.77 L185.53 86.31 L186.22 85.85 L186.90 85.39 L187.59 84.93 L188.28 84.47 L188.97 84.01 L189.65 83.56 L190.34 83.10 L191.03 82.64 L191.72 82.19 L192.40 81.73 L193.09 81.27 L193.78 80.82 L194.47 80.36 L195.15 79.91 L195.84 79.46 L196.53 79.00 L197.22 78.55 L197.90 78.10 L198.59 77.64 L199.28 77.19 L199.97 76.74 L200.65 76.29 L201.34 75.84 L202.03 75.39 L202.72 74.94 L203.40 74.49 L204.09 74.04 L204.78 73.59 L205.47 73.14 L206.15 72.69 L206.84 72.24 L207.53 71.80 L208.22 71.35 L208.90 70.90 L209.59 70.46 L210.28 70.01 L210.97 69.56 L211.65 69.12 L212.34 68.67 L213.03 68.23 L213.72 67.78 L214.40 67.34 L215.09 66.89 L215.78 66.45 L216.47 66.01 L217.15 65.56 L217.84 65.12 L218.53 64.68 L219.22 64.24 L219.90 63.80 L220.59 63.36 L221.28 62.91 L221.97 62.47 L222.65 62.03 L223.34 61.59 L224.03 61.15 L224.72 60.71 L225.40 60.28 L226.09 59.84 L226.78 59.40 L227.47 58.96 L228.15 58.52 L228.84 58.09 L229.53 57.65 L230.22 57.21 L230.90 56.78 L231.59 56.34 L232.28 55.90 L232.97 55.47 L233.65 55.03 L234.34 54.60 L235.03 54.16 L235.72 53.73 L236.40 53.29 L237.09 52.86 L237.78 52.43 L238.47 51.99 L239.15 51.56 L239.84 51.13 L240.53 50.70 L241.22 50.26 L241.90 49.83 L242.59 49.40 L243.28 48.97 L243.97 48.54 L244.65 48.11 L245.34 47.68 L246.03 47.25 L246.72 46.82 L247.40 46.39 L248.09 45.96 L248.78 45.53 L249.46 45.10 L250.15 44.67 L250.84 44.24 L251.53 43.82 L252.21 43.39 L252.90 42.96 L253.59 42.53 L254.28 42.11 L254.96 41.68 L255.65 41.25 L256.34 40.83 L257.03 40.40 L257.71 39.98 L258.40 39.55 L259.09 39.13 L259.78 38.70 L260.46 38.28 L261.15 37.85 L261.84 37.43 L262.53 37.00 L263.21 36.58 L263.90 36.16 L264.59 35.74 L265.28 35.31 L265.96 34.89 L266.65 34.47 L267.34 34.05 L268.03 33.62 L268.71 33.20 L269.40 32.78 L270.09 32.36 L270.78 31.94 L271.46 31.52 L272.15 31.10 L272.84 30.68 L273.53 30.26 L274.21 29.84 L274.90 29.42 L275.59 29.00 L276.28 28.58 L276.96 28.16 L277.65 27.75 L278.34 27.33 L279.03 26.91 L279.71 26.49 L280.40 26.07 L281.09 25.66 L281.78 25.24 L282.46 24.82 L283.15 24.41 L283.84 23.99 L284.53 23.58 L285.21 23.16 L285.90 22.74 L286.59 22.33 L287.28 21.91 L287.96 21.50 L288.65 21.08 L289.34 20.67 L290.03 20.26 L290.71 19.84 L291.40 19.43 L292.09 19.01 L292.78 18.60 L293.46 18.19 L294.15 17.77 L294.84 17.36 L295.53 16.95 L296.21 16.54 L296.90 16.13 L297.59 15.71 L298.28 15.30 L298.96 14.89 L299.65 14.48 L300.34 14.07 L301.03 13.66 L301.71 13.25 L302.40 12.84 L303.09 12.43 L303.78 12.02 L304.46 11.61 L305.15 11.20 L305.84 10.79 L306.53 10.38 L307.21 9.97 L307.90 9.56 L308.59 9.15 L309.28 8.75 L309.96 8.34 L310.65 7.93 L311.34 7.52 L312.03 7.11 L312.71 6.71 L313.40 6.30" stroke="#47821a" class="ca"/>
<path d="M33.50 213.40 L33.53 213.35 L33.56 213.30 L33.58 213.26 L33.61 213.22 L33.64 213.18 L33.67 213.14 L33.70 213.10 L33.73 213.06 L33.75 213.02 L33.78 212.98 L33.81 212.95 L33.84 212.91 L33.87 212.87 L33.89 212.84 L33.92 212.80 L33.95 212.77 L33.98 212.73 L34.01 212.70 L34.03 212.66 L34.06 212.63 L34.09 212.59 L34.12 212.56 L34.15 212.52 L34.18 212.49 L34.20 212.45 L34.23 212.42 L34.26 212.39 L34.29 212.35 L34.32 212.32 L34.34 212.28 L34.37 212.25 L34.40 212.22 L34.43 212.18 L34.46 212.15 L34.48 212.12 L34.51 212.09 L34.54 212.05 L34.57 212.02 L34.60 211.99 L34.63 211.95 L34.65 211.92 L34.68 211.89 L34.71 211.86 L34.74 211.83 L34.77 211.79 L34.79 211.76 L34.82 211.73 L34.85 211.70 L34.88 211.66 L34.91 211.63 L34.93 211.60 L34.96 211.57 L34.99 211.54 L35.02 211.51 L35.05 211.47 L35.08 211.44 L35.10 211.41 L35.13 211.38 L35.16 211.35 L35.19 211.32 L35.22 211.29 L35.24 211.26 L35.27 211.22 L35.30 211.19 L35.33 211.16 L35.36 211.13 L35.38 211.10 L35.41 211.07 L35.44 211.04 L35.47 211.01 L35.50 210.98 L35.53 210.95 L35.55 210.92 L35.58 210.89 L35.61 210.85 L35.64 210.82 L35.67 210.79 L35.69 210.76 L35.72 210.73 L35.75 210.70 L35.78 210.67 L35.81 210.64 L35.83 210.61 L35.86 210.58 L35.89 210.55 L35.92 210.52 L35.95 210.49 L35.98 210.46 L36.00 210.43 L36.03 210.40 L36.06 210.37 L36.09 210.34 L36.12 210.31 L36.14 210.28 L36.17 210.25 L36.20 210.22 L36.23 210.19 L36.26 210.16 L36.28 210.13 L36.31 210.10 L36.34 210.07 L36.37 210.04 L36.40 210.01 L36.43 209.98 L36.45 209.95 L36.48 209.93 L36.51 209.90 L36.54 209.87 L36.57 209.84 L36.59 209.81 L36.62 209.78 L36.65 209.75 L36.68 209.72 L36.71 209.69 L36.74 209.66 L36.76 209.63 L36.79 209.60 L36.82 209.57 L36.85 209.54 L36.88 209.51 L36.90 209.49 L36.93 209.46 L36.96 209.43 L36.99 209.40 L37.02 209.37 L37.04 209.34 L37.07 209.31 L37.10 209.28 L37.13 209.25 L37.16 209.22 L37.19 209.20 L37.21 209.17 L37.24 209.14 L37.27 209.11 L37.30 209.08 L37.33 209.05 L37.35 209.02 L37.38 208.99 L37.41 208.97 L37.44 208.94 L37.47 208.91 L37.49 208.88 L37.52 208.85 L37.55 208.82 L37.58 208.79 L37.61 208.76 L37.64 208.74 L37.66 208.71 L37.69 208.68 L37.72 208.65 L37.75 208.62 L37.78 208.59 L37.80 208.57 L37.83 208.54 L37.86 208.51 L37.89 208.48 L37.92 208.45 L37.94 208.42 L37.97 208.40 L38.00 208.37 L38.03 208.34 L38.06 208.31 L38.09 208.28 L38.11 208.25 L38.14 208.23 L38.17 208.20 L38.20 208.17 L38.23 208.14 L38.25 208.11 L38.28 208.08 L38.31 208.06 L38.34 208.03 L38.37 208.00 L38.39 207.97 L38.42 207.94 L38.45 207.92 L38.48 207.89 L38.51 207.86 L38.54 207.83 L38.56 207.80 L38.59 207.78 L38.62 207.75 L38.65 207.72 L38.68 207.69 L38.70 207.66 L38.73 207.64 L38.76 207.61 L38.79 207.58 L38.82 207.55 L38.84 207.52 L38.87 207.50 L38.90 207.47 L38.93 207.44 L38.96 207.41 L38.99 207.39 L39.01 207.36 L39.04 207.33 L39.07 207.30 L39.10 207.27 L39.79 206.60 L40.47 205.94 L41.16 205.28 L41.85 204.62 L42.54 203.98 L43.22 203.33 L43.91 202.69 L44.60 202.06 L45.29 201.43 L45.97 200.80 L46.66 200.18 L47.35 199.56 L48.04 198.94 L48.72 198.33 L49.41 197.72 L50.10 197.11 L50.79 196.50 L51.47 195.90 L52.16 195.30 L52.85 194.70 L53.53 194.10 L54.22 193.51 L54.91 192.92 L55.60 192.32 L56.28 191.73 L56.97 191.15 L57.66 190.56 L58.35 189.98 L59.03 189.40 L59.72 188.81 L60.41 188.24 L61.10 187.66 L61.78 187.08 L62.47 186.51 L63.16 185.93 L63.85 185.36 L64.53 184.79 L65.22 184.22 L65.91 183.65 L66.60 183.08 L67.28 182.52 L67.97 181.95 L68.66 181.39 L69.35 180.83 L70.03 180.26 L70.72 179.70 L71.41 179.14 L72.10 178.58 L72.78 178.03 L73.47 177.47 L74.16 176.91 L74.85 176.36 L75.53 175.81 L76.22 175.25 L76.91 174.70 L77.60 174.15 L78.28 173.60 L78.97 173.05 L79.66 172.50 L80.35 171.95 L81.03 171.41 L81.72 170.86 L82.41 170.31 L83.10 169.77 L83.78 169.23 L84.47 168.68 L85.16 168.14 L85.85 167.60 L86.53 167.06 L87.22 166.52 L87.91 165.98 L88.60 165.44 L89.28 164.90 L89.97 164.36 L90.66 163.83 L91.35 163.29 L92.03 162.75 L92.72 162.22 L93.41 161.68 L94.10 161.15 L94.78 160.62 L95.47 160.09 L96.16 159.55 L96.85 159.02 L97.53 158.49 L98.22 157.96 L98.91 157.43 L99.60 156.90 L100.28 156.37 L100.97 155.85 L101.66 155.32 L102.35 154.79 L103.03 154.26 L103.72 153.74 L104.41 153.21 L105.10 152.69 L105.78 152.16 L106.47 151.64 L107.16 151.12 L107.85 150.59 L108.53 150.07 L109.22 149.55 L109.91 149.03 L110.60 148.51 L111.28 147.99 L111.97 147.47 L112.66 146.95 L113.35 146.43 L114.03 145.91 L114.72 145.39 L115.41 144.87 L116.10 144.35 L116.78 143.84 L117.47 143.32 L118.16 142.80 L118.84 142.29 L119.53 141.77 L120.22 141.26 L120.91 140.74 L121.59 140.23 L122.28 139.72 L122.97 139.20 L123.66 138.69 L124.34 138.18 L125.03 137.67 L125.72 137.15 L126.41 136.64 L127.09 136.13 L127.78 135.62 L128.47 135.11 L129.16 134.60 L129.84 134.09 L130.53 133.58 L131.22 133.07 L131.91 132.56 L132.59 132.06 L133.28 131.55 L133.97 131.04 L134.66 130.53 L135.34 130.03 L136.03 129.52 L136.72 129.02 L137.41 128.51 L138.09 128.00 L138.78 127.50 L139.47 126.99 L140.16 126.49 L140.84 125.99 L141.53 125.48 L142.22 124.98 L142.91 124.48 L143.59 123.97 L144.28 123.47 L144.97 122.97 L145.66 122.47 L146.34 121.97 L147.03 121.46 L147.72 120.96 L148.41 120.46 L149.09 119.96 L149.78 119.46 L150.47 118.96 L151.16 118.46 L151.84 117.96 L152.53 117.47 L153.22 116.97 L153.91 116.47 L154.59 115.97 L155.28 115.47 L155.97 114.98 L156.66 114.48 L157.34 113.98 L158.03 113.49 L158.72 112.99 L159.41 112.49 L160.09 112.00 L160.78 111.50 L161.47 111.01 L162.16 110.51 L162.84 110.02 L163.53 109.52 L164.22 109.03 L164.91 108.54 L165.59 108.04 L166.28 107.55 L166.97 107.05 L167.66 106.56 L168.34 106.07 L169.03 105.58 L169.72 105.09 L170.41 104.59 L171.09 104.10 L171.78 103.61 L172.47 103.12 L173.16 102.63 L173.84 102.14 L174.53 101.65 L175.22 101.16 L175.91 100.67 L176.59 100.18 L177.28 99.69 L177.97 99.20 L178.66 98.71 L179.34 98.22 L180.03 97.73 L180.72 97.24 L181.41 96.76 L182.09 96.27 L182.78 95.78 L183.47 95.29 L184.15 94.81 L184.84 94.32 L185.53 93.83 L186.22 93.35 L186.90 92.86 L187.59 92.37 L188.28 91.89 L188.97 91.40 L189.65 90.92 L190.34 90.43 L191.03 89.95 L191.72 89.46 L192.40 88.98 L193.09 88.49 L193.78 88.01 L194.47 87.52 L195.15 87.04 L195.84 86.56 L196.53 86.07 L197.22 85.59 L197.90 85.11 L198.59 84.63 L199.28 84.14 L199.97 83.66 L200.65 83.18 L201.34 82.70 L202.03 82.21 L202.72 81.73 L203.40 81.25 L204.09 80.77 L204.78 80.29 L205.47 79.81 L206.15 79.33 L206.84 78.85 L207.53 78.37 L208.22 77.89 L208.90 77.41 L209.59 76.93 L210.28 76.45 L210.97 75.97 L211.65 75.49 L212.34 75.01 L213.03 74.53 L213.72 74.05 L214.40 73.58 L215.09 73.10 L215.78 72.62 L216.47 72.14 L217.15 71.66 L217.84 71.19 L218.53 70.71 L219.22 70.23 L219.90 69.76 L220.59 69.28 L221.28 68.80 L221.97 68.33 L222.65 67.85 L223.34 67.37 L224.03 66.90 L224.72 66.42 L225.40 65.95 L226.09 65.47 L226.78 65.00 L227.47 64.52 L228.15 64.05 L228.84 63.57 L229.53 63.10 L230.22 62.62 L230.90 62.15 L231.59 61.68 L232.28 61.20 L232.97 60.73 L233.65 60.25 L234.34 59.78 L235.03 59.31 L235.72 58.84 L236.40 58.36 L237.09 57.89 L237.78 57.42 L238.47 56.94 L239.15 56.47 L239.84 56.00 L240.53 55.53 L241.22 55.06 L241.90 54.59 L242.59 54.11 L243.28 53.64 L243.97 53.17 L244.65 52.70 L245.34 52.23 L246.03 51.76 L246.72 51.29 L247.40 50.82 L248.09 50.35 L248.78 49.88 L249.46 49.41 L250.15 48.94 L250.84 48.47 L251.53 48.00 L252.21 47.53 L252.90 47.06 L253.59 46.59 L254.28 46.12 L254.96 45.65 L255.65 45.19 L256.34 44.72 L257.03 44.25 L257.71 43.78 L258.40 43.31 L259.09 42.84 L259.78 42.38 L260.46 41.91 L261.15 41.44 L261.84 40.97 L262.53 40.51 L263.21 40.04 L263.90 39.57 L264.59 39.11 L265.28 38.64 L265.96 38.17 L266.65 37.71 L267.34 37.24 L268.03 36.78 L268.71 36.31 L269.40 35.84 L270.09 35.38 L270.78 34.91 L271.46 34.45 L272.15 33.98 L272.84 33.52 L273.53 33.05 L274.21 32.59 L274.90 32.12 L275.59 31.66 L276.28 31.19 L276.96 30.73 L277.65 30.27 L278.34 29.80 L279.03 29.34 L279.71 28.87 L280.40 28.41 L281.09 27.95 L281.78 27.48 L282.46 27.02 L283.15 26.56 L283.84 26.09 L284.53 25.63 L285.21 25.17 L285.90 24.71 L286.59 24.24 L287.28 23.78 L287.96 23.32 L288.65 22.86 L289.34 22.39 L290.03 21.93 L290.71 21.47 L291.40 21.01 L292.09 20.55 L292.78 20.09 L293.46 19.62 L294.15 19.16 L294.84 18.70 L295.53 18.24 L296.21 17.78 L296.90 17.32 L297.59 16.86 L298.28 16.40 L298.96 15.94 L299.65 15.48 L300.34 15.02 L301.03 14.56 L301.71 14.10 L302.40 13.64 L303.09 13.18 L303.78 12.72 L304.46 12.26 L305.15 11.80 L305.84 11.34 L306.53 10.88 L307.21 10.42 L307.90 9.97 L308.59 9.51 L309.28 9.05 L309.96 8.59 L310.65 8.13 L311.34 7.67 L312.03 7.22 L312.71 6.76 L313.40 6.30" stroke="#2a9ccf" class="ca"/>
<path d="M33.5 6.3V213.4H313.4" class="ax"/>
<line x1="33.50" y1="213.4" x2="33.50" y2="210.4" class="tk"/>
<line x1="33.5" y1="213.40" x2="36.5" y2="213.40" class="tk"/>
<g transform="translate(33.35 226.00) rotate(0.03) scale(1 0.94)"><text class="tl" text-anchor="middle">0</text></g>
<g transform="translate(30.2 217.15) rotate(0.03) scale(1 1.02)"><text class="tl" text-anchor="end">0</text></g>
<line x1="89.48" y1="213.4" x2="89.48" y2="210.4" class="tk"/>
<line x1="33.5" y1="171.98" x2="36.5" y2="171.98" class="tk"/>
<g transform="translate(89.33 226.00) rotate(0.03) scale(1 0.94)"><text class="tl" text-anchor="middle">0.2</text></g>
<g transform="translate(30.2 175.73) rotate(0.03) scale(1 1.02)"><text class="tl" text-anchor="end">0.2</text></g>
<line x1="145.46" y1="213.4" x2="145.46" y2="210.4" class="tk"/>
<line x1="33.5" y1="130.56" x2="36.5" y2="130.56" class="tk"/>
<g transform="translate(145.31 226.00) rotate(0.03) scale(1 0.94)"><text class="tl" text-anchor="middle">0.4</text></g>
<g transform="translate(30.2 134.31) rotate(0.03) scale(1 1.02)"><text class="tl" text-anchor="end">0.4</text></g>
<line x1="201.44" y1="213.4" x2="201.44" y2="210.4" class="tk"/>
<line x1="33.5" y1="89.14" x2="36.5" y2="89.14" class="tk"/>
<g transform="translate(201.29 226.00) rotate(0.03) scale(1 0.94)"><text class="tl" text-anchor="middle">0.6</text></g>
<g transform="translate(30.2 92.89) rotate(0.03) scale(1 1.02)"><text class="tl" text-anchor="end">0.6</text></g>
<line x1="257.42" y1="213.4" x2="257.42" y2="210.4" class="tk"/>
<line x1="33.5" y1="47.72" x2="36.5" y2="47.72" class="tk"/>
<g transform="translate(257.27 226.00) rotate(0.03) scale(1 0.94)"><text class="tl" text-anchor="middle">0.8</text></g>
<g transform="translate(30.2 51.47) rotate(0.03) scale(1 1.02)"><text class="tl" text-anchor="end">0.8</text></g>
<line x1="313.40" y1="213.4" x2="313.40" y2="210.4" class="tk"/>
<line x1="33.5" y1="6.30" x2="36.5" y2="6.30" class="tk"/>
<g transform="translate(313.25 226.00) rotate(0.03) scale(1 0.94)"><text class="tl" text-anchor="middle" clip-path="url(#c1m)">1</text></g>
<g transform="translate(30.2 10.05) rotate(0.03) scale(1 1.02)"><text class="tl" text-anchor="end" clip-path="url(#c1e)">1</text></g>
<text transform="translate(173.65 240) rotate(0.03) scale(1 1.09)" class="al xl" text-anchor="middle">Normalized Input (w<tspan class="sub" dx="0.6" dy="4.9">z</tspan><tspan dy="-4.9">)</tspan></text>
<text transform="translate(8.4 110.25000000000001) rotate(-90.03) scale(1 0.95)" class="al yl" text-anchor="middle">Normalized Companded Output (w<tspan class="sub" style="font-size:8.8px" dx="0.3" dy="5.4">c</tspan><tspan dy="-5.4">)</tspan></text>
<rect x="38.9" y="11.9" width="45.699999999999996" height="68.5" fill="#fff"/>
<path d="M38.9 11.9V80.4M84.6 11.9V80.4" class="lgb"/>
<path d="M38.9 11.9H84.6" class="lgb" stroke-opacity="0.05"/>
<path d="M38.9 80.4H84.6" class="lgb" stroke-opacity="1"/>
<line x1="41.0" y1="18.65" x2="53.8" y2="18.65" stroke="#0a2870" class="ca"/>
<text transform="translate(55.6 21.93) rotate(0.03)" class="lt">R = 0.4</text>
<line x1="41.0" y1="29.79" x2="53.8" y2="29.79" stroke="#9e2a12" class="ca"/>
<text transform="translate(55.6 33.07) rotate(0.03)" class="lt">R = 0.5</text>
<line x1="41.0" y1="40.93" x2="53.8" y2="40.93" stroke="#d69c1c" class="ca"/>
<text transform="translate(55.6 44.21) rotate(0.03)" class="lt">R = 0.6</text>
<line x1="41.0" y1="52.07" x2="53.8" y2="52.07" stroke="#34124f" class="ca"/>
<text transform="translate(55.6 55.35) rotate(0.03)" class="lt">R = 0.7</text>
<line x1="41.0" y1="63.21" x2="53.8" y2="63.21" stroke="#47821a" class="ca"/>
<text transform="translate(55.6 66.49) rotate(0.03)" class="lt">R = 0.8</text>
<line x1="41.0" y1="74.35" x2="53.8" y2="74.35" stroke="#2a9ccf" class="ca"/>
<text transform="translate(55.6 77.63) rotate(0.03)" class="lt">R = 0.9</text>
<text transform="translate(159.5 287.8) rotate(0.03)" class="cap" text-anchor="middle">(a)</text>
<line x1="457.50" y1="6.3" x2="457.50" y2="213.4" class="g"/>
<line x1="401.7" y1="171.98" x2="680" y2="171.98" class="g"/>
<line x1="513.40" y1="6.3" x2="513.40" y2="213.4" class="g"/>
<line x1="401.7" y1="130.56" x2="680" y2="130.56" class="g"/>
<line x1="569.30" y1="6.3" x2="569.30" y2="213.4" class="g"/>
<line x1="401.7" y1="89.14" x2="680" y2="89.14" class="g"/>
<line x1="624.50" y1="6.3" x2="624.50" y2="213.4" class="g"/>
<line x1="401.7" y1="47.72" x2="680" y2="47.72" class="g"/>
<path d="M401.7 6.3H680V213.4" class="bx"/>
<path d="M401.70 213.40 L402.40 213.40 L403.09 213.40 L403.79 213.40 L404.49 213.40 L405.19 213.40 L405.88 213.39 L406.58 213.39 L407.28 213.39 L407.98 213.38 L408.67 213.38 L409.37 213.37 L410.07 213.37 L410.77 213.36 L411.46 213.35 L412.16 213.34 L412.86 213.33 L413.56 213.32 L414.25 213.31 L414.95 213.30 L415.65 213.28 L416.35 213.27 L417.04 213.25 L417.74 213.23 L418.44 213.22 L419.14 213.20 L419.83 213.18 L420.53 213.15 L421.23 213.13 L421.93 213.11 L422.62 213.08 L423.32 213.05 L424.02 213.02 L424.72 212.99 L425.41 212.96 L426.11 212.93 L426.81 212.89 L427.51 212.86 L428.20 212.82 L428.90 212.78 L429.60 212.74 L430.30 212.70 L430.99 212.66 L431.69 212.61 L432.39 212.56 L433.09 212.52 L433.78 212.47 L434.48 212.41 L435.18 212.36 L435.88 212.31 L436.57 212.25 L437.27 212.19 L437.97 212.13 L438.67 212.07 L439.36 212.00 L440.06 211.94 L440.76 211.87 L441.46 211.80 L442.15 211.73 L442.85 211.66 L443.55 211.58 L444.25 211.51 L444.94 211.43 L445.64 211.35 L446.34 211.27 L447.04 211.18 L447.73 211.10 L448.43 211.01 L449.13 210.92 L449.83 210.82 L450.52 210.73 L451.22 210.63 L451.92 210.54 L452.62 210.43 L453.31 210.33 L454.01 210.23 L454.71 210.12 L455.41 210.01 L456.10 209.90 L456.80 209.79 L457.50 209.67 L458.20 209.55 L458.89 209.43 L459.59 209.31 L460.29 209.19 L460.99 209.06 L461.68 208.93 L462.38 208.80 L463.08 208.67 L463.78 208.53 L464.47 208.40 L465.17 208.26 L465.87 208.11 L466.57 207.97 L467.26 207.82 L467.96 207.67 L468.66 207.52 L469.36 207.37 L470.05 207.21 L470.75 207.05 L471.45 206.89 L472.15 206.72 L472.84 206.56 L473.54 206.39 L474.24 206.22 L474.94 206.04 L475.63 205.87 L476.33 205.69 L477.03 205.51 L477.73 205.32 L478.42 205.14 L479.12 204.95 L479.82 204.75 L480.52 204.56 L481.21 204.36 L481.91 204.16 L482.61 203.96 L483.31 203.76 L484.00 203.55 L484.70 203.34 L485.40 203.13 L486.10 202.91 L486.79 202.69 L487.49 202.47 L488.19 202.25 L488.89 202.02 L489.58 201.79 L490.28 201.56 L490.98 201.33 L491.68 201.09 L492.37 200.85 L493.07 200.61 L493.77 200.36 L494.47 200.11 L495.16 199.86 L495.86 199.61 L496.56 199.35 L497.26 199.09 L497.95 198.83 L498.65 198.57 L499.35 198.30 L500.05 198.03 L500.74 197.75 L501.44 197.47 L502.14 197.19 L502.84 196.91 L503.53 196.63 L504.23 196.34 L504.93 196.05 L505.63 195.75 L506.32 195.45 L507.02 195.15 L507.72 194.85 L508.42 194.54 L509.11 194.23 L509.81 193.92 L510.51 193.60 L511.21 193.29 L511.90 192.96 L512.60 192.64 L513.30 192.31 L514.00 191.98 L514.69 191.65 L515.39 191.31 L516.09 190.97 L516.79 190.63 L517.48 190.28 L518.18 189.93 L518.88 189.58 L519.58 189.22 L520.27 188.86 L520.97 188.50 L521.67 188.13 L522.37 187.76 L523.06 187.39 L523.76 187.02 L524.46 186.64 L525.16 186.26 L525.85 185.87 L526.55 185.48 L527.25 185.09 L527.95 184.70 L528.64 184.30 L529.34 183.90 L530.04 183.49 L530.74 183.08 L531.43 182.67 L532.13 182.26 L532.83 181.84 L533.53 181.42 L534.22 180.99 L534.92 180.57 L535.62 180.13 L536.32 179.70 L537.01 179.26 L537.71 178.82 L538.41 178.37 L539.11 177.93 L539.80 177.47 L540.50 177.02 L541.20 176.56 L541.90 176.10 L542.59 175.63 L543.29 175.16 L543.99 174.69 L544.69 174.21 L545.38 173.73 L546.08 173.25 L546.78 172.76 L547.48 172.27 L548.17 171.78 L548.87 171.28 L549.57 170.78 L550.27 170.28 L550.96 169.77 L551.66 169.26 L552.36 168.74 L553.06 168.23 L553.75 167.70 L554.45 167.18 L555.15 166.65 L555.85 166.11 L556.54 165.58 L557.24 165.04 L557.94 164.49 L558.64 163.95 L559.33 163.39 L560.03 162.84 L560.73 162.28 L561.43 161.72 L562.12 161.15 L562.82 160.58 L563.52 160.01 L564.22 159.43 L564.91 158.85 L565.61 158.27 L566.31 157.68 L567.01 157.09 L567.70 156.49 L568.40 155.89 L569.10 155.29 L569.80 154.68 L570.49 154.07 L571.19 153.45 L571.89 152.83 L572.59 152.21 L573.28 151.59 L573.98 150.96 L574.68 150.32 L575.38 149.68 L576.07 149.04 L576.77 148.40 L577.47 147.75 L578.17 147.09 L578.86 146.44 L579.56 145.78 L580.26 145.11 L580.96 144.44 L581.65 143.77 L582.35 143.09 L583.05 142.41 L583.75 141.73 L584.44 141.04 L585.14 140.35 L585.84 139.65 L586.54 138.95 L587.23 138.25 L587.93 137.54 L588.63 136.83 L589.33 136.11 L590.02 135.39 L590.72 134.66 L591.42 133.94 L592.12 133.20 L592.81 132.47 L593.51 131.73 L594.21 130.98 L594.91 130.23 L595.60 129.48 L596.30 128.72 L597.00 127.96 L597.70 127.20 L598.39 126.43 L599.09 125.66 L599.79 124.88 L600.49 124.10 L601.18 123.31 L601.88 122.52 L602.58 121.73 L603.28 120.93 L603.97 120.13 L604.67 119.32 L605.37 118.51 L606.07 117.70 L606.76 116.88 L607.46 116.06 L608.16 115.23 L608.86 114.40 L609.55 113.56 L610.25 112.72 L610.95 111.88 L611.65 111.03 L612.34 110.18 L613.04 109.32 L613.74 108.46 L614.44 107.60 L615.13 106.73 L615.83 105.85 L616.53 104.98 L617.23 104.09 L617.92 103.21 L618.62 102.32 L619.32 101.42 L620.02 100.52 L620.71 99.62 L621.41 98.71 L622.11 97.80 L622.81 96.88 L623.50 95.96 L624.20 95.03 L624.90 94.10 L625.60 93.17 L626.29 92.23 L626.99 91.29 L627.69 90.34 L628.39 89.39 L629.08 88.43 L629.78 87.47 L630.48 86.51 L631.18 85.54 L631.87 84.57 L632.57 83.59 L633.27 82.60 L633.97 81.62 L634.66 80.63 L635.36 79.63 L636.06 78.63 L636.76 77.62 L637.45 76.61 L638.15 75.60 L638.85 74.58 L639.55 73.56 L640.24 72.53 L640.94 71.50 L641.64 70.46 L642.34 69.42 L643.03 68.38 L643.73 67.33 L644.43 66.27 L645.13 65.21 L645.82 64.15 L646.52 63.08 L647.22 62.01 L647.92 60.93 L648.61 59.85 L649.31 58.76 L650.01 57.67 L650.71 56.57 L651.40 55.47 L652.10 54.37 L652.80 53.26 L653.50 52.14 L654.19 51.02 L654.89 49.90 L655.59 48.77 L656.29 47.64 L656.98 46.50 L657.68 45.36 L658.38 44.21 L659.08 43.06 L659.77 41.90 L660.47 40.74 L661.17 39.58 L661.87 38.41 L662.56 37.23 L663.26 36.05 L663.96 34.87 L664.66 33.68 L665.35 32.48 L666.05 31.28 L666.75 30.08 L667.45 28.87 L668.14 27.66 L668.84 26.44 L669.54 25.22 L670.24 23.99 L670.93 22.76 L671.63 21.52 L672.33 20.28 L673.03 19.03 L673.72 17.78 L674.42 16.53 L675.12 15.26 L675.82 14.00 L676.51 12.73 L677.21 11.45 L677.91 10.17 L678.61 8.89 L679.30 7.60 L680.00 6.30" stroke="#0a2870" class="cb"/>
<path d="M401.70 213.40 L402.40 213.40 L403.09 213.39 L403.79 213.39 L404.49 213.38 L405.19 213.37 L405.88 213.35 L406.58 213.34 L407.28 213.32 L407.98 213.29 L408.67 213.27 L409.37 213.24 L410.07 213.21 L410.77 213.18 L411.46 213.15 L412.16 213.11 L412.86 213.07 L413.56 213.02 L414.25 212.98 L414.95 212.93 L415.65 212.88 L416.35 212.83 L417.04 212.77 L417.74 212.71 L418.44 212.65 L419.14 212.59 L419.83 212.52 L420.53 212.45 L421.23 212.38 L421.93 212.31 L422.62 212.23 L423.32 212.15 L424.02 212.07 L424.72 211.98 L425.41 211.90 L426.11 211.81 L426.81 211.71 L427.51 211.62 L428.20 211.52 L428.90 211.42 L429.60 211.32 L430.30 211.21 L430.99 211.11 L431.69 210.99 L432.39 210.88 L433.09 210.77 L433.78 210.65 L434.48 210.53 L435.18 210.40 L435.88 210.28 L436.57 210.15 L437.27 210.02 L437.97 209.88 L438.67 209.75 L439.36 209.61 L440.06 209.46 L440.76 209.32 L441.46 209.17 L442.15 209.02 L442.85 208.87 L443.55 208.72 L444.25 208.56 L444.94 208.40 L445.64 208.24 L446.34 208.07 L447.04 207.90 L447.73 207.73 L448.43 207.56 L449.13 207.38 L449.83 207.21 L450.52 207.03 L451.22 206.84 L451.92 206.66 L452.62 206.47 L453.31 206.28 L454.01 206.08 L454.71 205.89 L455.41 205.69 L456.10 205.49 L456.80 205.28 L457.50 205.07 L458.20 204.86 L458.89 204.65 L459.59 204.44 L460.29 204.22 L460.99 204.00 L461.68 203.78 L462.38 203.55 L463.08 203.33 L463.78 203.10 L464.47 202.86 L465.17 202.63 L465.87 202.39 L466.57 202.15 L467.26 201.91 L467.96 201.66 L468.66 201.41 L469.36 201.16 L470.05 200.91 L470.75 200.65 L471.45 200.39 L472.15 200.13 L472.84 199.87 L473.54 199.60 L474.24 199.33 L474.94 199.06 L475.63 198.78 L476.33 198.51 L477.03 198.23 L477.73 197.94 L478.42 197.66 L479.12 197.37 L479.82 197.08 L480.52 196.79 L481.21 196.49 L481.91 196.20 L482.61 195.90 L483.31 195.59 L484.00 195.29 L484.70 194.98 L485.40 194.67 L486.10 194.35 L486.79 194.04 L487.49 193.72 L488.19 193.40 L488.89 193.07 L489.58 192.75 L490.28 192.42 L490.98 192.09 L491.68 191.75 L492.37 191.42 L493.07 191.08 L493.77 190.73 L494.47 190.39 L495.16 190.04 L495.86 189.69 L496.56 189.34 L497.26 188.98 L497.95 188.63 L498.65 188.27 L499.35 187.90 L500.05 187.54 L500.74 187.17 L501.44 186.80 L502.14 186.43 L502.84 186.05 L503.53 185.67 L504.23 185.29 L504.93 184.91 L505.63 184.52 L506.32 184.13 L507.02 183.74 L507.72 183.34 L508.42 182.95 L509.11 182.55 L509.81 182.15 L510.51 181.74 L511.21 181.33 L511.90 180.93 L512.60 180.51 L513.30 180.10 L514.00 179.68 L514.69 179.26 L515.39 178.84 L516.09 178.41 L516.79 177.98 L517.48 177.55 L518.18 177.12 L518.88 176.68 L519.58 176.25 L520.27 175.80 L520.97 175.36 L521.67 174.92 L522.37 174.47 L523.06 174.01 L523.76 173.56 L524.46 173.10 L525.16 172.65 L525.85 172.18 L526.55 171.72 L527.25 171.25 L527.95 170.78 L528.64 170.31 L529.34 169.84 L530.04 169.36 L530.74 168.88 L531.43 168.40 L532.13 167.91 L532.83 167.42 L533.53 166.93 L534.22 166.44 L534.92 165.94 L535.62 165.44 L536.32 164.94 L537.01 164.44 L537.71 163.93 L538.41 163.43 L539.11 162.91 L539.80 162.40 L540.50 161.88 L541.20 161.37 L541.90 160.84 L542.59 160.32 L543.29 159.79 L543.99 159.26 L544.69 158.73 L545.38 158.20 L546.08 157.66 L546.78 157.12 L547.48 156.58 L548.17 156.03 L548.87 155.48 L549.57 154.93 L550.27 154.38 L550.96 153.83 L551.66 153.27 L552.36 152.71 L553.06 152.14 L553.75 151.58 L554.45 151.01 L555.15 150.44 L555.85 149.86 L556.54 149.29 L557.24 148.71 L557.94 148.13 L558.64 147.54 L559.33 146.96 L560.03 146.37 L560.73 145.78 L561.43 145.18 L562.12 144.58 L562.82 143.98 L563.52 143.38 L564.22 142.78 L564.91 142.17 L565.61 141.56 L566.31 140.95 L567.01 140.33 L567.70 139.71 L568.40 139.09 L569.10 138.47 L569.80 137.84 L570.49 137.22 L571.19 136.58 L571.89 135.95 L572.59 135.32 L573.28 134.68 L573.98 134.04 L574.68 133.39 L575.38 132.74 L576.07 132.10 L576.77 131.44 L577.47 130.79 L578.17 130.13 L578.86 129.47 L579.56 128.81 L580.26 128.15 L580.96 127.48 L581.65 126.81 L582.35 126.14 L583.05 125.46 L583.75 124.78 L584.44 124.10 L585.14 123.42 L585.84 122.73 L586.54 122.05 L587.23 121.36 L587.93 120.66 L588.63 119.97 L589.33 119.27 L590.02 118.57 L590.72 117.86 L591.42 117.16 L592.12 116.45 L592.81 115.74 L593.51 115.02 L594.21 114.30 L594.91 113.59 L595.60 112.86 L596.30 112.14 L597.00 111.41 L597.70 110.68 L598.39 109.95 L599.09 109.21 L599.79 108.48 L600.49 107.74 L601.18 106.99 L601.88 106.25 L602.58 105.50 L603.28 104.75 L603.97 104.00 L604.67 103.24 L605.37 102.48 L606.07 101.72 L606.76 100.96 L607.46 100.19 L608.16 99.42 L608.86 98.65 L609.55 97.88 L610.25 97.10 L610.95 96.32 L611.65 95.54 L612.34 94.76 L613.04 93.97 L613.74 93.18 L614.44 92.39 L615.13 91.59 L615.83 90.79 L616.53 89.99 L617.23 89.19 L617.92 88.39 L618.62 87.58 L619.32 86.77 L620.02 85.95 L620.71 85.14 L621.41 84.32 L622.11 83.50 L622.81 82.68 L623.50 81.85 L624.20 81.02 L624.90 80.19 L625.60 79.36 L626.29 78.52 L626.99 77.68 L627.69 76.84 L628.39 76.00 L629.08 75.15 L629.78 74.30 L630.48 73.45 L631.18 72.59 L631.87 71.74 L632.57 70.88 L633.27 70.01 L633.97 69.15 L634.66 68.28 L635.36 67.41 L636.06 66.54 L636.76 65.66 L637.45 64.78 L638.15 63.90 L638.85 63.02 L639.55 62.13 L640.24 61.24 L640.94 60.35 L641.64 59.46 L642.34 58.56 L643.03 57.66 L643.73 56.76 L644.43 55.86 L645.13 54.95 L645.82 54.04 L646.52 53.13 L647.22 52.22 L647.92 51.30 L648.61 50.38 L649.31 49.46 L650.01 48.53 L650.71 47.61 L651.40 46.68 L652.10 45.74 L652.80 44.81 L653.50 43.87 L654.19 42.93 L654.89 41.99 L655.59 41.04 L656.29 40.09 L656.98 39.14 L657.68 38.19 L658.38 37.23 L659.08 36.27 L659.77 35.31 L660.47 34.35 L661.17 33.38 L661.87 32.41 L662.56 31.44 L663.26 30.46 L663.96 29.49 L664.66 28.51 L665.35 27.53 L666.05 26.54 L666.75 25.55 L667.45 24.56 L668.14 23.57 L668.84 22.58 L669.54 21.58 L670.24 20.58 L670.93 19.58 L671.63 18.57 L672.33 17.56 L673.03 16.55 L673.72 15.54 L674.42 14.52 L675.12 13.50 L675.82 12.48 L676.51 11.46 L677.21 10.43 L677.91 9.40 L678.61 8.37 L679.30 7.34 L680.00 6.30" stroke="#9e2a12" class="cb"/>
<path d="M401.70 213.40 L402.40 213.39 L403.09 213.37 L403.79 213.34 L404.49 213.30 L405.19 213.26 L405.88 213.21 L406.58 213.15 L407.28 213.09 L407.98 213.03 L408.67 212.96 L409.37 212.88 L410.07 212.80 L410.77 212.71 L411.46 212.62 L412.16 212.53 L412.86 212.43 L413.56 212.32 L414.25 212.22 L414.95 212.10 L415.65 211.99 L416.35 211.87 L417.04 211.75 L417.74 211.62 L418.44 211.49 L419.14 211.35 L419.83 211.21 L420.53 211.07 L421.23 210.93 L421.93 210.78 L422.62 210.63 L423.32 210.47 L424.02 210.31 L424.72 210.15 L425.41 209.98 L426.11 209.81 L426.81 209.64 L427.51 209.47 L428.20 209.29 L428.90 209.10 L429.60 208.92 L430.30 208.73 L430.99 208.54 L431.69 208.35 L432.39 208.15 L433.09 207.95 L433.78 207.74 L434.48 207.54 L435.18 207.33 L435.88 207.12 L436.57 206.90 L437.27 206.68 L437.97 206.46 L438.67 206.24 L439.36 206.01 L440.06 205.78 L440.76 205.55 L441.46 205.31 L442.15 205.08 L442.85 204.84 L443.55 204.59 L444.25 204.35 L444.94 204.10 L445.64 203.85 L446.34 203.59 L447.04 203.34 L447.73 203.08 L448.43 202.82 L449.13 202.55 L449.83 202.28 L450.52 202.01 L451.22 201.74 L451.92 201.47 L452.62 201.19 L453.31 200.91 L454.01 200.63 L454.71 200.34 L455.41 200.05 L456.10 199.76 L456.80 199.47 L457.50 199.18 L458.20 198.88 L458.89 198.58 L459.59 198.28 L460.29 197.97 L460.99 197.66 L461.68 197.35 L462.38 197.04 L463.08 196.73 L463.78 196.41 L464.47 196.09 L465.17 195.77 L465.87 195.44 L466.57 195.12 L467.26 194.79 L467.96 194.46 L468.66 194.12 L469.36 193.79 L470.05 193.45 L470.75 193.11 L471.45 192.77 L472.15 192.42 L472.84 192.07 L473.54 191.73 L474.24 191.37 L474.94 191.02 L475.63 190.66 L476.33 190.30 L477.03 189.94 L477.73 189.58 L478.42 189.21 L479.12 188.85 L479.82 188.48 L480.52 188.11 L481.21 187.73 L481.91 187.36 L482.61 186.98 L483.31 186.60 L484.00 186.21 L484.70 185.83 L485.40 185.44 L486.10 185.05 L486.79 184.66 L487.49 184.27 L488.19 183.87 L488.89 183.47 L489.58 183.07 L490.28 182.67 L490.98 182.27 L491.68 181.86 L492.37 181.45 L493.07 181.04 L493.77 180.63 L494.47 180.21 L495.16 179.80 L495.86 179.38 L496.56 178.96 L497.26 178.53 L497.95 178.11 L498.65 177.68 L499.35 177.25 L500.05 176.82 L500.74 176.39 L501.44 175.95 L502.14 175.51 L502.84 175.07 L503.53 174.63 L504.23 174.19 L504.93 173.74 L505.63 173.29 L506.32 172.85 L507.02 172.39 L507.72 171.94 L508.42 171.48 L509.11 171.03 L509.81 170.57 L510.51 170.11 L511.21 169.64 L511.90 169.18 L512.60 168.71 L513.30 168.24 L514.00 167.77 L514.69 167.29 L515.39 166.82 L516.09 166.34 L516.79 165.86 L517.48 165.38 L518.18 164.90 L518.88 164.41 L519.58 163.93 L520.27 163.44 L520.97 162.95 L521.67 162.45 L522.37 161.96 L523.06 161.46 L523.76 160.96 L524.46 160.46 L525.16 159.96 L525.85 159.46 L526.55 158.95 L527.25 158.44 L527.95 157.93 L528.64 157.42 L529.34 156.91 L530.04 156.39 L530.74 155.88 L531.43 155.36 L532.13 154.84 L532.83 154.31 L533.53 153.79 L534.22 153.26 L534.92 152.73 L535.62 152.20 L536.32 151.67 L537.01 151.14 L537.71 150.60 L538.41 150.06 L539.11 149.52 L539.80 148.98 L540.50 148.44 L541.20 147.89 L541.90 147.35 L542.59 146.80 L543.29 146.25 L543.99 145.70 L544.69 145.14 L545.38 144.59 L546.08 144.03 L546.78 143.47 L547.48 142.91 L548.17 142.35 L548.87 141.78 L549.57 141.21 L550.27 140.65 L550.96 140.08 L551.66 139.50 L552.36 138.93 L553.06 138.35 L553.75 137.78 L554.45 137.20 L555.15 136.62 L555.85 136.03 L556.54 135.45 L557.24 134.86 L557.94 134.28 L558.64 133.69 L559.33 133.10 L560.03 132.50 L560.73 131.91 L561.43 131.31 L562.12 130.71 L562.82 130.11 L563.52 129.51 L564.22 128.91 L564.91 128.30 L565.61 127.70 L566.31 127.09 L567.01 126.48 L567.70 125.86 L568.40 125.25 L569.10 124.63 L569.80 124.02 L570.49 123.40 L571.19 122.78 L571.89 122.16 L572.59 121.53 L573.28 120.91 L573.98 120.28 L574.68 119.65 L575.38 119.02 L576.07 118.39 L576.77 117.75 L577.47 117.11 L578.17 116.48 L578.86 115.84 L579.56 115.20 L580.26 114.55 L580.96 113.91 L581.65 113.26 L582.35 112.62 L583.05 111.97 L583.75 111.32 L584.44 110.66 L585.14 110.01 L585.84 109.35 L586.54 108.69 L587.23 108.04 L587.93 107.37 L588.63 106.71 L589.33 106.05 L590.02 105.38 L590.72 104.71 L591.42 104.04 L592.12 103.37 L592.81 102.70 L593.51 102.03 L594.21 101.35 L594.91 100.67 L595.60 99.99 L596.30 99.31 L597.00 98.63 L597.70 97.95 L598.39 97.26 L599.09 96.57 L599.79 95.89 L600.49 95.20 L601.18 94.50 L601.88 93.81 L602.58 93.11 L603.28 92.42 L603.97 91.72 L604.67 91.02 L605.37 90.32 L606.07 89.61 L606.76 88.91 L607.46 88.20 L608.16 87.49 L608.86 86.78 L609.55 86.07 L610.25 85.36 L610.95 84.65 L611.65 83.93 L612.34 83.21 L613.04 82.49 L613.74 81.77 L614.44 81.05 L615.13 80.33 L615.83 79.60 L616.53 78.87 L617.23 78.14 L617.92 77.41 L618.62 76.68 L619.32 75.95 L620.02 75.21 L620.71 74.48 L621.41 73.74 L622.11 73.00 L622.81 72.26 L623.50 71.51 L624.20 70.77 L624.90 70.02 L625.60 69.28 L626.29 68.53 L626.99 67.78 L627.69 67.02 L628.39 66.27 L629.08 65.52 L629.78 64.76 L630.48 64.00 L631.18 63.24 L631.87 62.48 L632.57 61.72 L633.27 60.95 L633.97 60.19 L634.66 59.42 L635.36 58.65 L636.06 57.88 L636.76 57.11 L637.45 56.33 L638.15 55.56 L638.85 54.78 L639.55 54.00 L640.24 53.22 L640.94 52.44 L641.64 51.66 L642.34 50.87 L643.03 50.09 L643.73 49.30 L644.43 48.51 L645.13 47.72 L645.82 46.93 L646.52 46.14 L647.22 45.34 L647.92 44.54 L648.61 43.75 L649.31 42.95 L650.01 42.15 L650.71 41.34 L651.40 40.54 L652.10 39.73 L652.80 38.93 L653.50 38.12 L654.19 37.31 L654.89 36.50 L655.59 35.68 L656.29 34.87 L656.98 34.05 L657.68 33.24 L658.38 32.42 L659.08 31.60 L659.77 30.77 L660.47 29.95 L661.17 29.13 L661.87 28.30 L662.56 27.47 L663.26 26.64 L663.96 25.81 L664.66 24.98 L665.35 24.15 L666.05 23.31 L666.75 22.47 L667.45 21.64 L668.14 20.80 L668.84 19.96 L669.54 19.11 L670.24 18.27 L670.93 17.42 L671.63 16.58 L672.33 15.73 L673.03 14.88 L673.72 14.03 L674.42 13.17 L675.12 12.32 L675.82 11.46 L676.51 10.61 L677.21 9.75 L677.91 8.89 L678.61 8.03 L679.30 7.16 L680.00 6.30" stroke="#d69c1c" class="cb"/>
<path d="M401.70 213.40 L402.40 213.36 L403.09 213.29 L403.79 213.21 L404.49 213.11 L405.19 213.00 L405.88 212.88 L406.58 212.76 L407.28 212.62 L407.98 212.48 L408.67 212.33 L409.37 212.17 L410.07 212.01 L410.77 211.84 L411.46 211.67 L412.16 211.49 L412.86 211.31 L413.56 211.12 L414.25 210.92 L414.95 210.73 L415.65 210.52 L416.35 210.31 L417.04 210.10 L417.74 209.89 L418.44 209.67 L419.14 209.44 L419.83 209.21 L420.53 208.98 L421.23 208.75 L421.93 208.51 L422.62 208.26 L423.32 208.02 L424.02 207.77 L424.72 207.51 L425.41 207.26 L426.11 207.00 L426.81 206.74 L427.51 206.47 L428.20 206.20 L428.90 205.93 L429.60 205.65 L430.30 205.37 L430.99 205.09 L431.69 204.81 L432.39 204.52 L433.09 204.23 L433.78 203.94 L434.48 203.65 L435.18 203.35 L435.88 203.05 L436.57 202.74 L437.27 202.44 L437.97 202.13 L438.67 201.82 L439.36 201.51 L440.06 201.19 L440.76 200.87 L441.46 200.55 L442.15 200.23 L442.85 199.90 L443.55 199.57 L444.25 199.24 L444.94 198.91 L445.64 198.58 L446.34 198.24 L447.04 197.90 L447.73 197.56 L448.43 197.21 L449.13 196.87 L449.83 196.52 L450.52 196.17 L451.22 195.81 L451.92 195.46 L452.62 195.10 L453.31 194.74 L454.01 194.38 L454.71 194.02 L455.41 193.65 L456.10 193.29 L456.80 192.92 L457.50 192.55 L458.20 192.17 L458.89 191.80 L459.59 191.42 L460.29 191.04 L460.99 190.66 L461.68 190.28 L462.38 189.89 L463.08 189.50 L463.78 189.11 L464.47 188.72 L465.17 188.33 L465.87 187.94 L466.57 187.54 L467.26 187.14 L467.96 186.74 L468.66 186.34 L469.36 185.94 L470.05 185.53 L470.75 185.12 L471.45 184.72 L472.15 184.30 L472.84 183.89 L473.54 183.48 L474.24 183.06 L474.94 182.64 L475.63 182.23 L476.33 181.80 L477.03 181.38 L477.73 180.96 L478.42 180.53 L479.12 180.10 L479.82 179.67 L480.52 179.24 L481.21 178.81 L481.91 178.38 L482.61 177.94 L483.31 177.50 L484.00 177.06 L484.70 176.62 L485.40 176.18 L486.10 175.74 L486.79 175.29 L487.49 174.84 L488.19 174.40 L488.89 173.95 L489.58 173.49 L490.28 173.04 L490.98 172.59 L491.68 172.13 L492.37 171.67 L493.07 171.21 L493.77 170.75 L494.47 170.29 L495.16 169.83 L495.86 169.36 L496.56 168.89 L497.26 168.43 L497.95 167.96 L498.65 167.49 L499.35 167.01 L500.05 166.54 L500.74 166.06 L501.44 165.59 L502.14 165.11 L502.84 164.63 L503.53 164.15 L504.23 163.66 L504.93 163.18 L505.63 162.69 L506.32 162.21 L507.02 161.72 L507.72 161.23 L508.42 160.74 L509.11 160.25 L509.81 159.75 L510.51 159.26 L511.21 158.76 L511.90 158.26 L512.60 157.76 L513.30 157.26 L514.00 156.76 L514.69 156.26 L515.39 155.75 L516.09 155.25 L516.79 154.74 L517.48 154.23 L518.18 153.72 L518.88 153.21 L519.58 152.70 L520.27 152.18 L520.97 151.67 L521.67 151.15 L522.37 150.64 L523.06 150.12 L523.76 149.60 L524.46 149.08 L525.16 148.55 L525.85 148.03 L526.55 147.50 L527.25 146.98 L527.95 146.45 L528.64 145.92 L529.34 145.39 L530.04 144.86 L530.74 144.32 L531.43 143.79 L532.13 143.26 L532.83 142.72 L533.53 142.18 L534.22 141.64 L534.92 141.10 L535.62 140.56 L536.32 140.02 L537.01 139.47 L537.71 138.93 L538.41 138.38 L539.11 137.84 L539.80 137.29 L540.50 136.74 L541.20 136.19 L541.90 135.63 L542.59 135.08 L543.29 134.53 L543.99 133.97 L544.69 133.41 L545.38 132.86 L546.08 132.30 L546.78 131.74 L547.48 131.18 L548.17 130.61 L548.87 130.05 L549.57 129.48 L550.27 128.92 L550.96 128.35 L551.66 127.78 L552.36 127.21 L553.06 126.64 L553.75 126.07 L554.45 125.50 L555.15 124.92 L555.85 124.35 L556.54 123.77 L557.24 123.20 L557.94 122.62 L558.64 122.04 L559.33 121.46 L560.03 120.88 L560.73 120.29 L561.43 119.71 L562.12 119.12 L562.82 118.54 L563.52 117.95 L564.22 117.36 L564.91 116.77 L565.61 116.18 L566.31 115.59 L567.01 115.00 L567.70 114.40 L568.40 113.81 L569.10 113.21 L569.80 112.62 L570.49 112.02 L571.19 111.42 L571.89 110.82 L572.59 110.22 L573.28 109.62 L573.98 109.01 L574.68 108.41 L575.38 107.80 L576.07 107.20 L576.77 106.59 L577.47 105.98 L578.17 105.37 L578.86 104.76 L579.56 104.15 L580.26 103.54 L580.96 102.92 L581.65 102.31 L582.35 101.69 L583.05 101.08 L583.75 100.46 L584.44 99.84 L585.14 99.22 L585.84 98.60 L586.54 97.98 L587.23 97.36 L587.93 96.73 L588.63 96.11 L589.33 95.48 L590.02 94.86 L590.72 94.23 L591.42 93.60 L592.12 92.97 L592.81 92.34 L593.51 91.71 L594.21 91.07 L594.91 90.44 L595.60 89.81 L596.30 89.17 L597.00 88.53 L597.70 87.90 L598.39 87.26 L599.09 86.62 L599.79 85.98 L600.49 85.34 L601.18 84.69 L601.88 84.05 L602.58 83.41 L603.28 82.76 L603.97 82.11 L604.67 81.47 L605.37 80.82 L606.07 80.17 L606.76 79.52 L607.46 78.87 L608.16 78.22 L608.86 77.56 L609.55 76.91 L610.25 76.26 L610.95 75.60 L611.65 74.94 L612.34 74.29 L613.04 73.63 L613.74 72.97 L614.44 72.31 L615.13 71.65 L615.83 70.98 L616.53 70.32 L617.23 69.66 L617.92 68.99 L618.62 68.33 L619.32 67.66 L620.02 66.99 L620.71 66.32 L621.41 65.65 L622.11 64.98 L622.81 64.31 L623.50 63.64 L624.20 62.97 L624.90 62.29 L625.60 61.62 L626.29 60.94 L626.99 60.26 L627.69 59.59 L628.39 58.91 L629.08 58.23 L629.78 57.55 L630.48 56.87 L631.18 56.18 L631.87 55.50 L632.57 54.82 L633.27 54.13 L633.97 53.45 L634.66 52.76 L635.36 52.07 L636.06 51.38 L636.76 50.69 L637.45 50.00 L638.15 49.31 L638.85 48.62 L639.55 47.93 L640.24 47.23 L640.94 46.54 L641.64 45.84 L642.34 45.15 L643.03 44.45 L643.73 43.75 L644.43 43.05 L645.13 42.35 L645.82 41.65 L646.52 40.95 L647.22 40.25 L647.92 39.55 L648.61 38.84 L649.31 38.14 L650.01 37.43 L650.71 36.73 L651.40 36.02 L652.10 35.31 L652.80 34.60 L653.50 33.89 L654.19 33.18 L654.89 32.47 L655.59 31.76 L656.29 31.04 L656.98 30.33 L657.68 29.61 L658.38 28.90 L659.08 28.18 L659.77 27.46 L660.47 26.75 L661.17 26.03 L661.87 25.31 L662.56 24.59 L663.26 23.86 L663.96 23.14 L664.66 22.42 L665.35 21.69 L666.05 20.97 L666.75 20.24 L667.45 19.52 L668.14 18.79 L668.84 18.06 L669.54 17.33 L670.24 16.60 L670.93 15.87 L671.63 15.14 L672.33 14.41 L673.03 13.67 L673.72 12.94 L674.42 12.21 L675.12 11.47 L675.82 10.73 L676.51 10.00 L677.21 9.26 L677.91 8.52 L678.61 7.78 L679.30 7.04 L680.00 6.30" stroke="#34124f" class="cb"/>
<path d="M401.70 213.40 L402.40 213.28 L403.09 213.12 L403.79 212.94 L404.49 212.74 L405.19 212.53 L405.88 212.31 L406.58 212.08 L407.28 211.84 L407.98 211.59 L408.67 211.33 L409.37 211.07 L410.07 210.81 L410.77 210.53 L411.46 210.25 L412.16 209.97 L412.86 209.68 L413.56 209.39 L414.25 209.09 L414.95 208.79 L415.65 208.49 L416.35 208.18 L417.04 207.87 L417.74 207.55 L418.44 207.23 L419.14 206.91 L419.83 206.58 L420.53 206.25 L421.23 205.92 L421.93 205.58 L422.62 205.25 L423.32 204.90 L424.02 204.56 L424.72 204.21 L425.41 203.87 L426.11 203.51 L426.81 203.16 L427.51 202.80 L428.20 202.44 L428.90 202.08 L429.60 201.72 L430.30 201.35 L430.99 200.98 L431.69 200.61 L432.39 200.24 L433.09 199.86 L433.78 199.49 L434.48 199.11 L435.18 198.73 L435.88 198.34 L436.57 197.96 L437.27 197.57 L437.97 197.18 L438.67 196.79 L439.36 196.40 L440.06 196.01 L440.76 195.61 L441.46 195.21 L442.15 194.81 L442.85 194.41 L443.55 194.01 L444.25 193.60 L444.94 193.20 L445.64 192.79 L446.34 192.38 L447.04 191.97 L447.73 191.55 L448.43 191.14 L449.13 190.72 L449.83 190.30 L450.52 189.89 L451.22 189.46 L451.92 189.04 L452.62 188.62 L453.31 188.19 L454.01 187.77 L454.71 187.34 L455.41 186.91 L456.10 186.48 L456.80 186.05 L457.50 185.61 L458.20 185.18 L458.89 184.74 L459.59 184.31 L460.29 183.87 L460.99 183.43 L461.68 182.99 L462.38 182.54 L463.08 182.10 L463.78 181.65 L464.47 181.21 L465.17 180.76 L465.87 180.31 L466.57 179.86 L467.26 179.41 L467.96 178.96 L468.66 178.50 L469.36 178.05 L470.05 177.59 L470.75 177.13 L471.45 176.67 L472.15 176.22 L472.84 175.75 L473.54 175.29 L474.24 174.83 L474.94 174.37 L475.63 173.90 L476.33 173.43 L477.03 172.97 L477.73 172.50 L478.42 172.03 L479.12 171.56 L479.82 171.09 L480.52 170.61 L481.21 170.14 L481.91 169.66 L482.61 169.19 L483.31 168.71 L484.00 168.23 L484.70 167.75 L485.40 167.27 L486.10 166.79 L486.79 166.31 L487.49 165.83 L488.19 165.34 L488.89 164.86 L489.58 164.37 L490.28 163.89 L490.98 163.40 L491.68 162.91 L492.37 162.42 L493.07 161.93 L493.77 161.44 L494.47 160.95 L495.16 160.45 L495.86 159.96 L496.56 159.46 L497.26 158.97 L497.95 158.47 L498.65 157.97 L499.35 157.47 L500.05 156.97 L500.74 156.47 L501.44 155.97 L502.14 155.47 L502.84 154.96 L503.53 154.46 L504.23 153.96 L504.93 153.45 L505.63 152.94 L506.32 152.44 L507.02 151.93 L507.72 151.42 L508.42 150.91 L509.11 150.40 L509.81 149.88 L510.51 149.37 L511.21 148.86 L511.90 148.34 L512.60 147.83 L513.30 147.31 L514.00 146.80 L514.69 146.28 L515.39 145.76 L516.09 145.24 L516.79 144.72 L517.48 144.20 L518.18 143.68 L518.88 143.16 L519.58 142.63 L520.27 142.11 L520.97 141.59 L521.67 141.06 L522.37 140.53 L523.06 140.01 L523.76 139.48 L524.46 138.95 L525.16 138.42 L525.85 137.89 L526.55 137.36 L527.25 136.83 L527.95 136.30 L528.64 135.77 L529.34 135.23 L530.04 134.70 L530.74 134.16 L531.43 133.63 L532.13 133.09 L532.83 132.55 L533.53 132.02 L534.22 131.48 L534.92 130.94 L535.62 130.40 L536.32 129.86 L537.01 129.32 L537.71 128.77 L538.41 128.23 L539.11 127.69 L539.80 127.14 L540.50 126.60 L541.20 126.05 L541.90 125.51 L542.59 124.96 L543.29 124.41 L543.99 123.86 L544.69 123.31 L545.38 122.76 L546.08 122.21 L546.78 121.66 L547.48 121.11 L548.17 120.56 L548.87 120.01 L549.57 119.45 L550.27 118.90 L550.96 118.34 L551.66 117.79 L552.36 117.23 L553.06 116.68 L553.75 116.12 L554.45 115.56 L555.15 115.00 L555.85 114.44 L556.54 113.88 L557.24 113.32 L557.94 112.76 L558.64 112.20 L559.33 111.63 L560.03 111.07 L560.73 110.51 L561.43 109.94 L562.12 109.38 L562.82 108.81 L563.52 108.25 L564.22 107.68 L564.91 107.11 L565.61 106.54 L566.31 105.98 L567.01 105.41 L567.70 104.84 L568.40 104.27 L569.10 103.69 L569.80 103.12 L570.49 102.55 L571.19 101.98 L571.89 101.40 L572.59 100.83 L573.28 100.26 L573.98 99.68 L574.68 99.10 L575.38 98.53 L576.07 97.95 L576.77 97.37 L577.47 96.80 L578.17 96.22 L578.86 95.64 L579.56 95.06 L580.26 94.48 L580.96 93.90 L581.65 93.32 L582.35 92.73 L583.05 92.15 L583.75 91.57 L584.44 90.98 L585.14 90.40 L585.84 89.81 L586.54 89.23 L587.23 88.64 L587.93 88.06 L588.63 87.47 L589.33 86.88 L590.02 86.29 L590.72 85.70 L591.42 85.12 L592.12 84.53 L592.81 83.94 L593.51 83.34 L594.21 82.75 L594.91 82.16 L595.60 81.57 L596.30 80.98 L597.00 80.38 L597.70 79.79 L598.39 79.19 L599.09 78.60 L599.79 78.00 L600.49 77.41 L601.18 76.81 L601.88 76.21 L602.58 75.61 L603.28 75.02 L603.97 74.42 L604.67 73.82 L605.37 73.22 L606.07 72.62 L606.76 72.02 L607.46 71.42 L608.16 70.81 L608.86 70.21 L609.55 69.61 L610.25 69.00 L610.95 68.40 L611.65 67.80 L612.34 67.19 L613.04 66.59 L613.74 65.98 L614.44 65.37 L615.13 64.77 L615.83 64.16 L616.53 63.55 L617.23 62.94 L617.92 62.33 L618.62 61.72 L619.32 61.11 L620.02 60.50 L620.71 59.89 L621.41 59.28 L622.11 58.67 L622.81 58.06 L623.50 57.45 L624.20 56.83 L624.90 56.22 L625.60 55.60 L626.29 54.99 L626.99 54.37 L627.69 53.76 L628.39 53.14 L629.08 52.53 L629.78 51.91 L630.48 51.29 L631.18 50.67 L631.87 50.05 L632.57 49.44 L633.27 48.82 L633.97 48.20 L634.66 47.58 L635.36 46.96 L636.06 46.33 L636.76 45.71 L637.45 45.09 L638.15 44.47 L638.85 43.84 L639.55 43.22 L640.24 42.60 L640.94 41.97 L641.64 41.35 L642.34 40.72 L643.03 40.10 L643.73 39.47 L644.43 38.84 L645.13 38.22 L645.82 37.59 L646.52 36.96 L647.22 36.33 L647.92 35.70 L648.61 35.07 L649.31 34.44 L650.01 33.81 L650.71 33.18 L651.40 32.55 L652.10 31.92 L652.80 31.29 L653.50 30.65 L654.19 30.02 L654.89 29.39 L655.59 28.75 L656.29 28.12 L656.98 27.48 L657.68 26.85 L658.38 26.21 L659.08 25.58 L659.77 24.94 L660.47 24.30 L661.17 23.67 L661.87 23.03 L662.56 22.39 L663.26 21.75 L663.96 21.11 L664.66 20.47 L665.35 19.83 L666.05 19.19 L666.75 18.55 L667.45 17.91 L668.14 17.27 L668.84 16.63 L669.54 15.99 L670.24 15.34 L670.93 14.70 L671.63 14.06 L672.33 13.41 L673.03 12.77 L673.72 12.12 L674.42 11.48 L675.12 10.83 L675.82 10.19 L676.51 9.54 L677.21 8.89 L677.91 8.24 L678.61 7.60 L679.30 6.95 L680.00 6.30" stroke="#47821a" class="cb"/>
<path d="M401.70 213.40 L402.40 213.13 L403.09 212.82 L403.79 212.50 L404.49 212.16 L405.19 211.80 L405.88 211.45 L406.58 211.08 L407.28 210.71 L407.98 210.33 L408.67 209.95 L409.37 209.57 L410.07 209.18 L410.77 208.79 L411.46 208.39 L412.16 207.99 L412.86 207.59 L413.56 207.19 L414.25 206.78 L414.95 206.37 L415.65 205.96 L416.35 205.54 L417.04 205.12 L417.74 204.71 L418.44 204.28 L419.14 203.86 L419.83 203.44 L420.53 203.01 L421.23 202.58 L421.93 202.15 L422.62 201.72 L423.32 201.29 L424.02 200.85 L424.72 200.41 L425.41 199.98 L426.11 199.54 L426.81 199.10 L427.51 198.65 L428.20 198.21 L428.90 197.77 L429.60 197.32 L430.30 196.87 L430.99 196.42 L431.69 195.97 L432.39 195.52 L433.09 195.07 L433.78 194.62 L434.48 194.16 L435.18 193.71 L435.88 193.25 L436.57 192.80 L437.27 192.34 L437.97 191.88 L438.67 191.42 L439.36 190.96 L440.06 190.49 L440.76 190.03 L441.46 189.57 L442.15 189.10 L442.85 188.64 L443.55 188.17 L444.25 187.70 L444.94 187.23 L445.64 186.76 L446.34 186.29 L447.04 185.82 L447.73 185.35 L448.43 184.88 L449.13 184.40 L449.83 183.93 L450.52 183.46 L451.22 182.98 L451.92 182.50 L452.62 182.03 L453.31 181.55 L454.01 181.07 L454.71 180.59 L455.41 180.11 L456.10 179.63 L456.80 179.15 L457.50 178.67 L458.20 178.18 L458.89 177.70 L459.59 177.22 L460.29 176.73 L460.99 176.25 L461.68 175.76 L462.38 175.27 L463.08 174.79 L463.78 174.30 L464.47 173.81 L465.17 173.32 L465.87 172.83 L466.57 172.34 L467.26 171.85 L467.96 171.36 L468.66 170.87 L469.36 170.37 L470.05 169.88 L470.75 169.39 L471.45 168.89 L472.15 168.40 L472.84 167.90 L473.54 167.41 L474.24 166.91 L474.94 166.41 L475.63 165.92 L476.33 165.42 L477.03 164.92 L477.73 164.42 L478.42 163.92 L479.12 163.42 L479.82 162.92 L480.52 162.42 L481.21 161.92 L481.91 161.42 L482.61 160.91 L483.31 160.41 L484.00 159.91 L484.70 159.40 L485.40 158.90 L486.10 158.39 L486.79 157.89 L487.49 157.38 L488.19 156.88 L488.89 156.37 L489.58 155.86 L490.28 155.35 L490.98 154.85 L491.68 154.34 L492.37 153.83 L493.07 153.32 L493.77 152.81 L494.47 152.30 L495.16 151.79 L495.86 151.28 L496.56 150.77 L497.26 150.25 L497.95 149.74 L498.65 149.23 L499.35 148.72 L500.05 148.20 L500.74 147.69 L501.44 147.17 L502.14 146.66 L502.84 146.14 L503.53 145.63 L504.23 145.11 L504.93 144.60 L505.63 144.08 L506.32 143.56 L507.02 143.04 L507.72 142.53 L508.42 142.01 L509.11 141.49 L509.81 140.97 L510.51 140.45 L511.21 139.93 L511.90 139.41 L512.60 138.89 L513.30 138.37 L514.00 137.85 L514.69 137.33 L515.39 136.81 L516.09 136.28 L516.79 135.76 L517.48 135.24 L518.18 134.71 L518.88 134.19 L519.58 133.67 L520.27 133.14 L520.97 132.62 L521.67 132.09 L522.37 131.57 L523.06 131.04 L523.76 130.52 L524.46 129.99 L525.16 129.46 L525.85 128.93 L526.55 128.41 L527.25 127.88 L527.95 127.35 L528.64 126.82 L529.34 126.29 L530.04 125.77 L530.74 125.24 L531.43 124.71 L532.13 124.18 L532.83 123.65 L533.53 123.12 L534.22 122.58 L534.92 122.05 L535.62 121.52 L536.32 120.99 L537.01 120.46 L537.71 119.93 L538.41 119.39 L539.11 118.86 L539.80 118.33 L540.50 117.79 L541.20 117.26 L541.90 116.72 L542.59 116.19 L543.29 115.65 L543.99 115.12 L544.69 114.58 L545.38 114.05 L546.08 113.51 L546.78 112.98 L547.48 112.44 L548.17 111.90 L548.87 111.37 L549.57 110.83 L550.27 110.29 L550.96 109.75 L551.66 109.21 L552.36 108.68 L553.06 108.14 L553.75 107.60 L554.45 107.06 L555.15 106.52 L555.85 105.98 L556.54 105.44 L557.24 104.90 L557.94 104.36 L558.64 103.82 L559.33 103.27 L560.03 102.73 L560.73 102.19 L561.43 101.65 L562.12 101.11 L562.82 100.56 L563.52 100.02 L564.22 99.48 L564.91 98.94 L565.61 98.39 L566.31 97.85 L567.01 97.30 L567.70 96.76 L568.40 96.21 L569.10 95.67 L569.80 95.12 L570.49 94.58 L571.19 94.03 L571.89 93.49 L572.59 92.94 L573.28 92.39 L573.98 91.85 L574.68 91.30 L575.38 90.75 L576.07 90.21 L576.77 89.66 L577.47 89.11 L578.17 88.56 L578.86 88.01 L579.56 87.47 L580.26 86.92 L580.96 86.37 L581.65 85.82 L582.35 85.27 L583.05 84.72 L583.75 84.17 L584.44 83.62 L585.14 83.07 L585.84 82.52 L586.54 81.97 L587.23 81.42 L587.93 80.86 L588.63 80.31 L589.33 79.76 L590.02 79.21 L590.72 78.66 L591.42 78.10 L592.12 77.55 L592.81 77.00 L593.51 76.44 L594.21 75.89 L594.91 75.34 L595.60 74.78 L596.30 74.23 L597.00 73.67 L597.70 73.12 L598.39 72.57 L599.09 72.01 L599.79 71.46 L600.49 70.90 L601.18 70.34 L601.88 69.79 L602.58 69.23 L603.28 68.68 L603.97 68.12 L604.67 67.56 L605.37 67.01 L606.07 66.45 L606.76 65.89 L607.46 65.33 L608.16 64.78 L608.86 64.22 L609.55 63.66 L610.25 63.10 L610.95 62.54 L611.65 61.98 L612.34 61.42 L613.04 60.87 L613.74 60.31 L614.44 59.75 L615.13 59.19 L615.83 58.63 L616.53 58.07 L617.23 57.51 L617.92 56.94 L618.62 56.38 L619.32 55.82 L620.02 55.26 L620.71 54.70 L621.41 54.14 L622.11 53.58 L622.81 53.01 L623.50 52.45 L624.20 51.89 L624.90 51.33 L625.60 50.76 L626.29 50.20 L626.99 49.64 L627.69 49.07 L628.39 48.51 L629.08 47.95 L629.78 47.38 L630.48 46.82 L631.18 46.25 L631.87 45.69 L632.57 45.13 L633.27 44.56 L633.97 44.00 L634.66 43.43 L635.36 42.86 L636.06 42.30 L636.76 41.73 L637.45 41.17 L638.15 40.60 L638.85 40.03 L639.55 39.47 L640.24 38.90 L640.94 38.33 L641.64 37.77 L642.34 37.20 L643.03 36.63 L643.73 36.06 L644.43 35.50 L645.13 34.93 L645.82 34.36 L646.52 33.79 L647.22 33.22 L647.92 32.65 L648.61 32.08 L649.31 31.51 L650.01 30.95 L650.71 30.38 L651.40 29.81 L652.10 29.24 L652.80 28.67 L653.50 28.10 L654.19 27.53 L654.89 26.95 L655.59 26.38 L656.29 25.81 L656.98 25.24 L657.68 24.67 L658.38 24.10 L659.08 23.53 L659.77 22.96 L660.47 22.38 L661.17 21.81 L661.87 21.24 L662.56 20.67 L663.26 20.09 L663.96 19.52 L664.66 18.95 L665.35 18.38 L666.05 17.80 L666.75 17.23 L667.45 16.65 L668.14 16.08 L668.84 15.51 L669.54 14.93 L670.24 14.36 L670.93 13.78 L671.63 13.21 L672.33 12.63 L673.03 12.06 L673.72 11.48 L674.42 10.91 L675.12 10.33 L675.82 9.76 L676.51 9.18 L677.21 8.61 L677.91 8.03 L678.61 7.45 L679.30 6.88 L680.00 6.30" stroke="#2a9ccf" class="cb"/>
<path d="M401.7 6.3V213.4H680" class="ax"/>
<line x1="401.70" y1="213.4" x2="401.70" y2="210.4" class="tk"/>
<line x1="401.7" y1="213.40" x2="404.7" y2="213.40" class="tk"/>
<g transform="translate(401.55 226.60) rotate(0.03) scale(1 1.0)"><text class="tl" text-anchor="middle">0</text></g>
<g transform="translate(397.9 217.25) rotate(0.03) scale(1 1.02)"><text class="tl" text-anchor="end">0</text></g>
<line x1="457.50" y1="213.4" x2="457.50" y2="210.4" class="tk"/>
<line x1="401.7" y1="171.98" x2="404.7" y2="171.98" class="tk"/>
<g transform="translate(457.35 226.60) rotate(0.03) scale(1 1.0)"><text class="tl" text-anchor="middle">0.2</text></g>
<g transform="translate(397.9 175.83) rotate(0.03) scale(1 1.02)"><text class="tl" text-anchor="end">0.2</text></g>
<line x1="513.40" y1="213.4" x2="513.40" y2="210.4" class="tk"/>
<line x1="401.7" y1="130.56" x2="404.7" y2="130.56" class="tk"/>
<g transform="translate(513.25 226.60) rotate(0.03) scale(1 1.0)"><text class="tl" text-anchor="middle">0.4</text></g>
<g transform="translate(397.9 134.41) rotate(0.03) scale(1 1.02)"><text class="tl" text-anchor="end">0.4</text></g>
<line x1="569.30" y1="213.4" x2="569.30" y2="210.4" class="tk"/>
<line x1="401.7" y1="89.14" x2="404.7" y2="89.14" class="tk"/>
<g transform="translate(569.15 226.60) rotate(0.03) scale(1 1.0)"><text class="tl" text-anchor="middle">0.6</text></g>
<g transform="translate(397.9 92.99) rotate(0.03) scale(1 1.02)"><text class="tl" text-anchor="end">0.6</text></g>
<line x1="624.50" y1="213.4" x2="624.50" y2="210.4" class="tk"/>
<line x1="401.7" y1="47.72" x2="404.7" y2="47.72" class="tk"/>
<g transform="translate(624.35 226.60) rotate(0.03) scale(1 1.0)"><text class="tl" text-anchor="middle">0.8</text></g>
<g transform="translate(397.9 51.57) rotate(0.03) scale(1 1.02)"><text class="tl" text-anchor="end">0.8</text></g>
<line x1="680.00" y1="213.4" x2="680.00" y2="210.4" class="tk"/>
<line x1="401.7" y1="6.30" x2="404.7" y2="6.30" class="tk"/>
<g transform="translate(679.85 226.60) rotate(0.03) scale(1 1.0)"><text class="tl" text-anchor="middle" clip-path="url(#c1m)">1</text></g>
<g transform="translate(397.9 10.15) rotate(0.03) scale(1 1.02)"><text class="tl" text-anchor="end" clip-path="url(#c1e)">1</text></g>
<text transform="translate(540.9 240) rotate(0.03) scale(1 1.09)" class="al xl" text-anchor="middle">Normalized Companded Input (v<tspan class="sub" dx="0.6" dy="4.9">c</tspan><tspan dy="-4.9">)</tspan></text>
<text transform="translate(380.6 110.25000000000001) rotate(-90.03) scale(1 0.95)" class="al yl" text-anchor="middle">Normalized Expanded Output (v)</text>
<rect x="407.3" y="12.3" width="45.30000000000001" height="68.4" fill="#fff"/>
<path d="M407.3 12.3V80.7M452.6 12.3V80.7" class="lgb"/>
<path d="M407.3 12.3H452.6" class="lgb" stroke-opacity="1"/>
<path d="M407.3 80.7H452.6" class="lgb" stroke-opacity="0.45"/>
<line x1="409.2" y1="19.00" x2="421.4" y2="19.00" stroke="#0a2870" class="cl"/>
<text transform="translate(423.1 21.92) rotate(0.03)" class="lt">R = 0.4</text>
<line x1="409.2" y1="30.14" x2="421.4" y2="30.14" stroke="#9e2a12" class="cl"/>
<text transform="translate(423.1 33.06) rotate(0.03)" class="lt">R = 0.5</text>
<line x1="409.2" y1="41.28" x2="421.4" y2="41.28" stroke="#d69c1c" class="cl"/>
<text transform="translate(423.1 44.20) rotate(0.03)" class="lt">R = 0.6</text>
<line x1="409.2" y1="52.42" x2="421.4" y2="52.42" stroke="#34124f" class="cl"/>
<text transform="translate(423.1 55.34) rotate(0.03)" class="lt">R = 0.7</text>
<line x1="409.2" y1="63.56" x2="421.4" y2="63.56" stroke="#47821a" class="cl"/>
<text transform="translate(423.1 66.48) rotate(0.03)" class="lt">R = 0.8</text>
<line x1="409.2" y1="74.70" x2="421.4" y2="74.70" stroke="#2a9ccf" class="cl"/>
<text transform="translate(423.1 77.62) rotate(0.03)" class="lt">R = 0.9</text>
<text transform="translate(528.4 287.8) rotate(0.03)" class="cap" text-anchor="middle">(b)</text>
</svg>
</body></html>
